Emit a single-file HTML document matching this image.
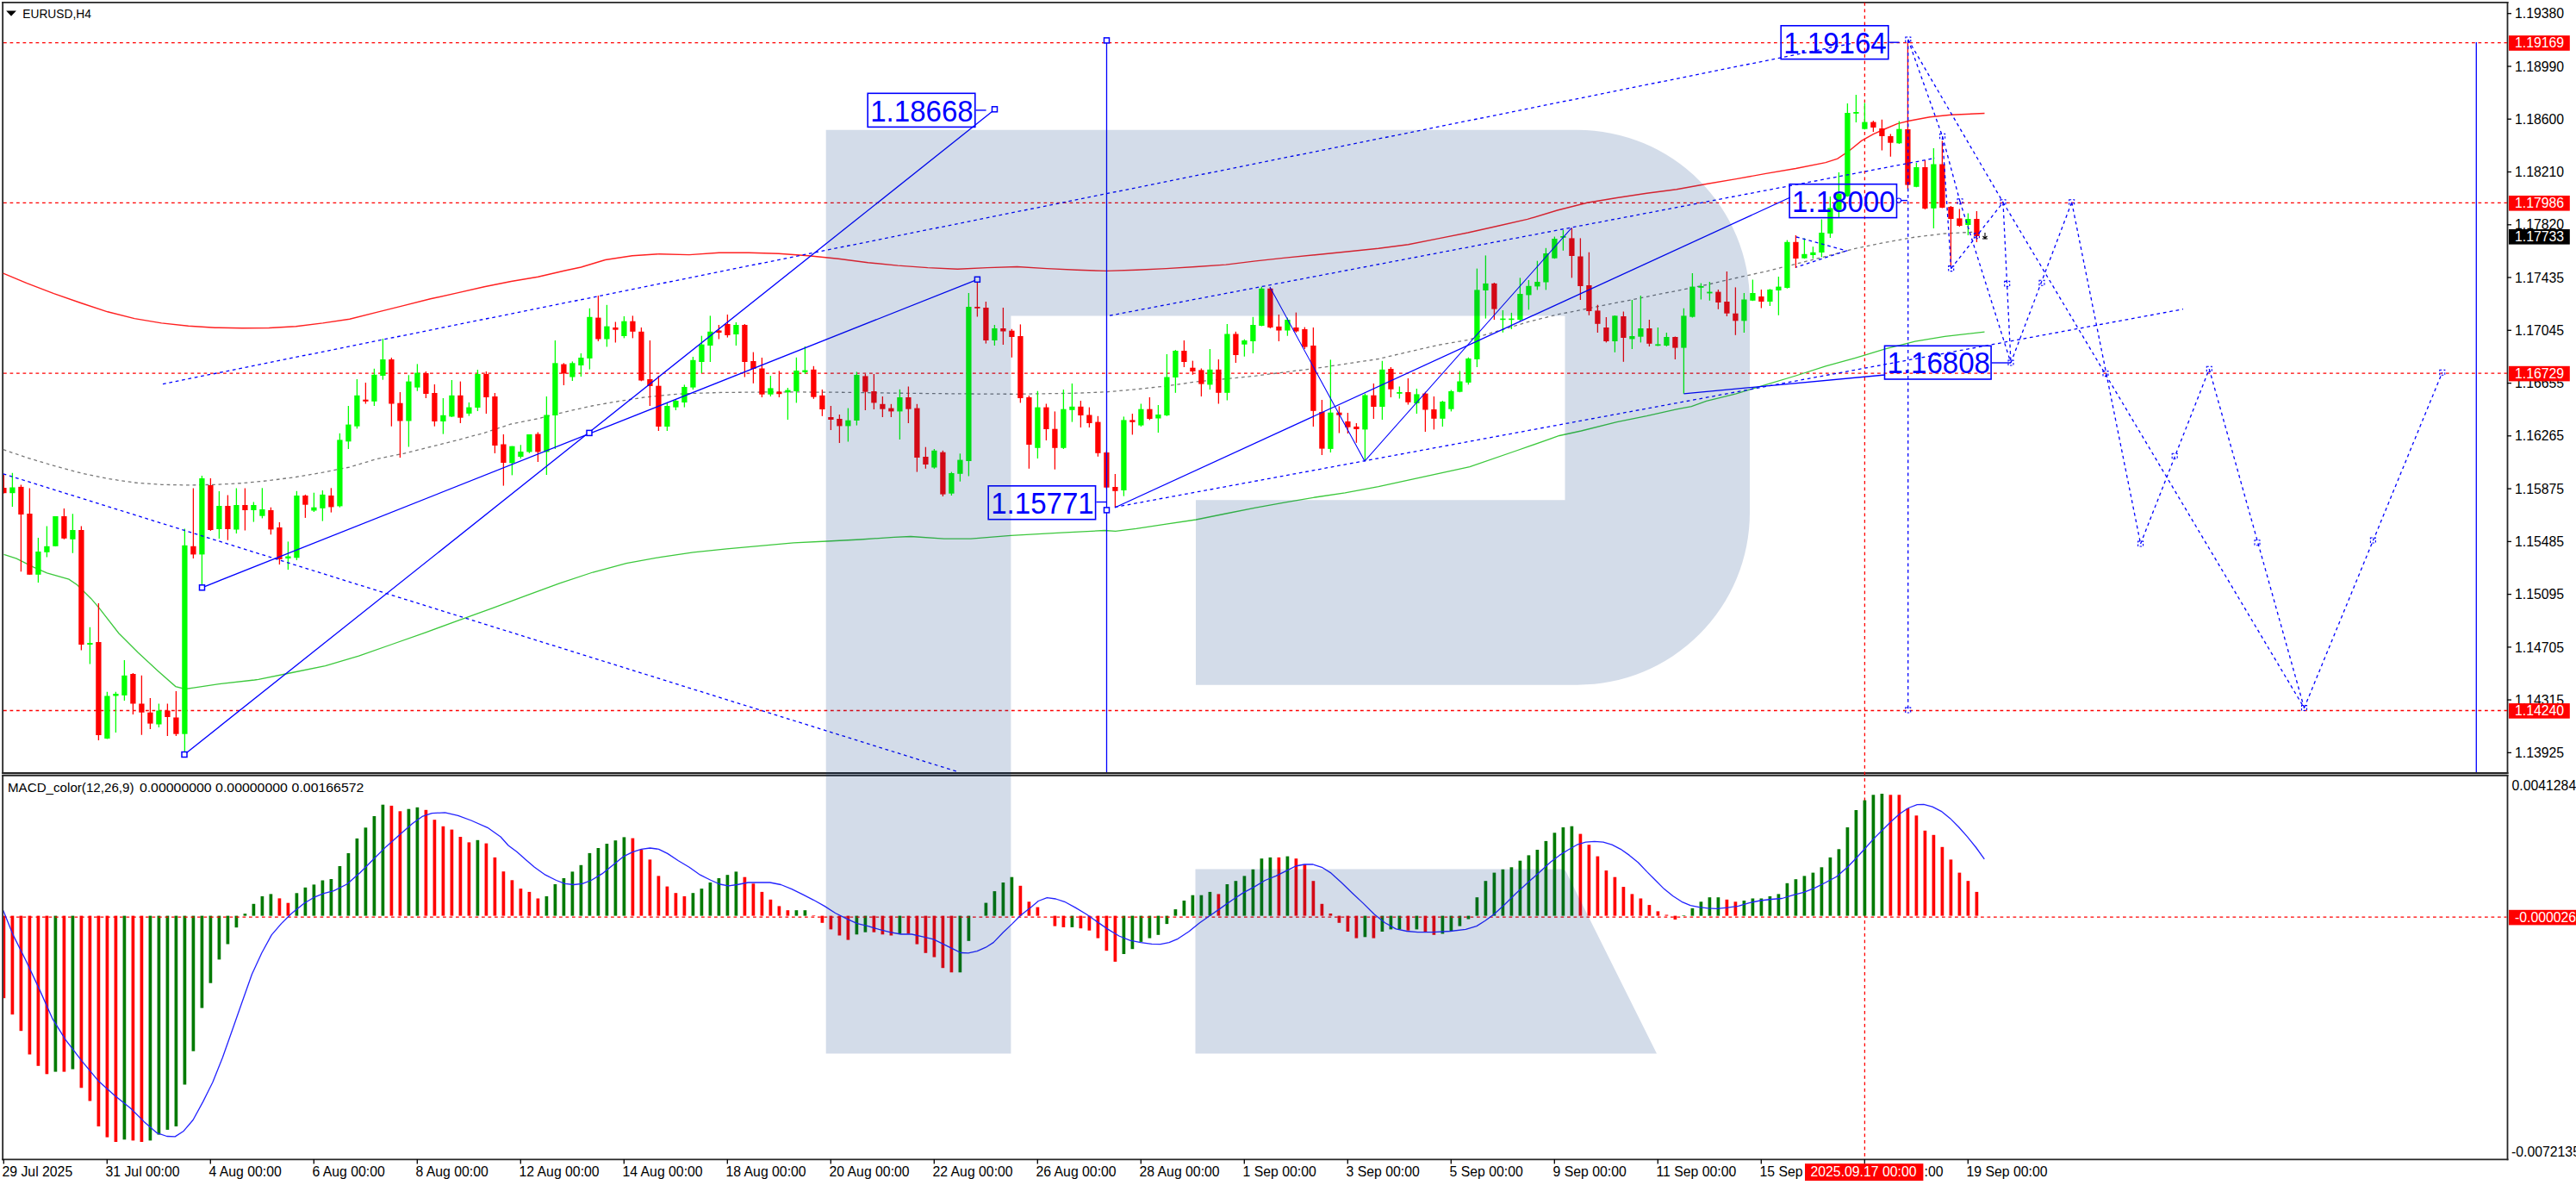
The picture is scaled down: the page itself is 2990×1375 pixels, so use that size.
<!DOCTYPE html>
<html><head><meta charset="utf-8"><title>EURUSD H4</title>
<style>html,body{margin:0;padding:0;background:#fff;width:2990px;height:1375px;overflow:hidden;font-family:"Liberation Sans",sans-serif}</style>
</head><body>
<svg width="2990" height="1375" viewBox="0 0 2990 1375" style="position:absolute;left:0;top:0">
<rect width="100%" height="100%" fill="#fff"/>
<defs><clipPath id="cm"><rect x="4.1" y="3.8" width="2905.4" height="892.3"/></clipPath><clipPath id="ci"><rect x="4.1" y="900.8" width="2905.4" height="443.6"/></clipPath><clipPath id="call"><rect x="4.2" y="3.5" width="2905.5" height="1341.3"/></clipPath></defs>
<g stroke="#262626" stroke-width="1.8" fill="none">
<line x1="3.15" y1="2.1" x2="3.15" y2="897.9"/>
<line x1="3.15" y1="899.1" x2="3.15" y2="1346.3"/>
<line x1="2.2" y1="2.95" x2="2911.5" y2="2.95"/>
<line x1="2910.5" y1="2.1" x2="2910.5" y2="897.9"/>
<line x1="2910.5" y1="899.1" x2="2910.5" y2="1346.3"/>
<line x1="2.2" y1="897" x2="2911.5" y2="897"/>
<line x1="2.2" y1="898.5" x2="2911.5" y2="898.5" stroke="#b4b4b4" stroke-width="1.2"/>
<line x1="2.2" y1="899.95" x2="2911.5" y2="899.95"/>
<line x1="2.2" y1="1345.3" x2="2911.5" y2="1345.3"/>
</g>
<g stroke="#ff0000" stroke-width="1.3" stroke-dasharray="3.75 3.75" fill="none">
<line x1="4" y1="49.6" x2="2910" y2="49.6"/>
<line x1="4" y1="235.4" x2="2910" y2="235.4"/>
<line x1="4" y1="433.2" x2="2910" y2="433.2"/>
<line x1="4" y1="824.5" x2="2910" y2="824.5"/>
<line x1="2164.4" y1="3" x2="2164.4" y2="1345"/>
</g>
<polyline points="4.5,643.4 19.2,648.2 38.5,657.8 54.5,664.9 80.0,672.2 89.7,678.7 105.8,694.7 115.4,705.9 137.8,734.7 160.3,757.2 182.7,778.0 203.8,796.6 214.7,799.5 224.4,798.2 256.4,793.4 295.4,789.0 300.0,788.3 338.8,780.5 377.6,772.7 416.5,761.1 455.3,747.5 494.1,733.9 532.9,719.6 571.7,705.6 610.6,691.2 649.4,676.9 688.2,664.0 727.0,653.6 765.8,646.6 804.7,640.8 843.5,636.9 882.3,633.4 921.1,629.9 959.9,628.0 998.8,626.0 1037.6,623.3 1057.0,622.5 1095.8,625.2 1126.9,625.2 1173.4,621.4 1231.7,618.2 1282.1,615.5 1294.8,616.3 1319.0,613.3 1353.6,608.1 1388.2,603.0 1422.8,596.0 1457.4,589.1 1492.0,582.9 1526.6,577.0 1561.2,571.8 1600.0,564.7 1706.0,541.7 1760.0,523.0 1810.0,505.5 1835.3,500.0 1876.8,489.6 1911.4,482.7 1946.0,474.8 1963.3,471.7 1980.6,465.4 2015.2,456.8 2049.8,446.4 2084.4,436.0 2119.0,424.9 2153.6,415.3 2188.2,404.9 2222.8,396.2 2257.4,390.3 2303.5,385.2" fill="none" stroke="#3cc83c" stroke-width="1.3"/>
<polyline points="3.7,521.7 31.2,531.0 62.5,540.4 93.7,548.8 124.9,555.4 156.1,560.0 187.4,562.3 218.6,562.9 249.8,562.3 281.0,560.7 312.3,557.6 343.5,553.5 374.7,548.2 405.9,542.0 437.2,532.6 468.4,526.3 499.6,518.5 530.8,510.7 562.1,502.3 593.3,492.0 624.5,485.8 655.7,478.0 687.0,471.0 718.2,465.5 749.4,460.8 780.6,457.7 800.0,456.6 834.6,455.5 903.8,454.8 973.0,455.2 1042.2,456.2 1111.4,456.9 1180.6,457.3 1249.8,456.2 1284.4,454.8 1319.0,451.7 1353.6,447.9 1388.2,443.0 1422.8,439.6 1457.4,436.2 1492.0,431.7 1526.6,427.5 1561.2,422.3 1600.0,416.5 1634.6,408.3 1669.2,400.4 1703.8,394.5 1738.4,384.1 1773.0,373.7 1807.6,365.0 1842.2,358.2 1876.8,351.2 1911.4,344.3 1946.0,337.4 1980.6,330.5 2015.2,322.5 2049.8,314.9 2084.4,306.3 2119.0,297.6 2153.6,288.3 2188.2,281.3 2222.8,275.1 2257.4,271.0 2292.0,269.2" fill="none" stroke="#777" stroke-width="1.3" stroke-dasharray="3.75 3.75"/>
<polyline points="3.7,317.1 31.2,328.7 62.5,340.6 93.7,351.5 124.9,361.8 156.1,369.6 187.4,374.9 218.6,378.3 249.8,380.2 281.0,380.8 312.3,380.5 343.5,378.7 374.7,374.9 405.9,370.2 437.2,362.4 468.4,354.6 499.6,346.8 530.8,339.9 562.1,332.7 593.3,326.5 624.5,321.2 655.7,314.0 674.5,310.0 702.6,301.5 733.8,296.8 765.0,294.7 800.0,295.6 834.6,293.3 869.2,293.3 903.8,294.3 938.4,296.7 973.0,300.2 1007.6,304.7 1042.2,308.1 1076.8,310.6 1111.4,312.3 1146.0,310.6 1180.6,309.5 1215.2,311.6 1249.8,313.3 1284.4,314.4 1319.0,313.3 1353.6,311.6 1388.2,309.5 1422.8,307.1 1457.4,302.9 1492.0,299.1 1526.6,295.7 1561.2,292.2 1600.0,288.2 1634.6,283.8 1669.2,276.9 1703.8,270.0 1738.4,262.3 1773.0,254.4 1807.6,244.0 1842.2,235.3 1876.8,229.5 1911.4,224.3 1946.0,219.8 1980.6,213.5 2015.2,207.6 2049.8,201.4 2084.4,195.5 2119.0,188.6 2132.9,184.1 2146.7,174.8 2160.6,163.4 2174.4,155.7 2188.2,149.5 2202.1,143.6 2215.9,140.2 2240.1,135.7 2264.4,133.3 2303.5,131.5" fill="none" stroke="#ff2020" stroke-width="1.4"/>
<g clip-path="url(#cm)">
<line x1="4.4" y1="550.7" x2="4.4" y2="572.6" stroke="#ff0000" stroke-width="1.3"/>
<rect x="1.25" y="566.0" width="6.3" height="6.2" fill="#ff0000"/>
<line x1="14.4" y1="548.8" x2="14.4" y2="588.0" stroke="#00ff00" stroke-width="1.3"/>
<rect x="11.25" y="565.5" width="6.3" height="6.7" fill="#00ff00"/>
<line x1="24.4" y1="562.6" x2="24.4" y2="663.3" stroke="#ff0000" stroke-width="1.3"/>
<rect x="21.25" y="564.9" width="6.3" height="32.1" fill="#ff0000"/>
<line x1="34.4" y1="566.5" x2="34.4" y2="666.8" stroke="#ff0000" stroke-width="1.3"/>
<rect x="31.25" y="596.0" width="6.3" height="70.8" fill="#ff0000"/>
<line x1="44.4" y1="624.0" x2="44.4" y2="676.0" stroke="#00ff00" stroke-width="1.3"/>
<rect x="41.25" y="640.0" width="6.3" height="26.8" fill="#00ff00"/>
<line x1="54.4" y1="610.4" x2="54.4" y2="646.6" stroke="#00ff00" stroke-width="1.3"/>
<rect x="51.25" y="633.8" width="6.3" height="7.0" fill="#00ff00"/>
<line x1="64.4" y1="599.0" x2="64.4" y2="634.0" stroke="#00ff00" stroke-width="1.3"/>
<rect x="61.25" y="599.0" width="6.3" height="34.8" fill="#00ff00"/>
<line x1="74.4" y1="589.9" x2="74.4" y2="625.8" stroke="#ff0000" stroke-width="1.3"/>
<rect x="71.25" y="599.0" width="6.3" height="25.8" fill="#ff0000"/>
<line x1="84.4" y1="596.3" x2="84.4" y2="641.8" stroke="#00ff00" stroke-width="1.3"/>
<rect x="81.25" y="615.0" width="6.3" height="10.8" fill="#00ff00"/>
<line x1="94.4" y1="610.4" x2="94.4" y2="754.6" stroke="#ff0000" stroke-width="1.3"/>
<rect x="91.25" y="615.0" width="6.3" height="133.0" fill="#ff0000"/>
<line x1="104.4" y1="727.7" x2="104.4" y2="770.6" stroke="#00ff00" stroke-width="1.3"/>
<rect x="101.25" y="746.0" width="6.3" height="2.0" fill="#00ff00"/>
<line x1="114.4" y1="700.0" x2="114.4" y2="859.0" stroke="#ff0000" stroke-width="1.3"/>
<rect x="111.25" y="745.0" width="6.3" height="108.0" fill="#ff0000"/>
<line x1="124.4" y1="802.7" x2="124.4" y2="857.5" stroke="#00ff00" stroke-width="1.3"/>
<rect x="121.25" y="807.5" width="6.3" height="49.5" fill="#00ff00"/>
<line x1="134.4" y1="802.7" x2="134.4" y2="850.0" stroke="#00ff00" stroke-width="1.3"/>
<rect x="131.25" y="805.0" width="6.3" height="2.5" fill="#00ff00"/>
<line x1="144.4" y1="766.0" x2="144.4" y2="813.0" stroke="#00ff00" stroke-width="1.3"/>
<rect x="141.25" y="783.8" width="6.3" height="23.1" fill="#00ff00"/>
<line x1="154.4" y1="781.0" x2="154.4" y2="829.0" stroke="#ff0000" stroke-width="1.3"/>
<rect x="151.25" y="782.0" width="6.3" height="34.5" fill="#ff0000"/>
<line x1="164.4" y1="783.8" x2="164.4" y2="852.7" stroke="#ff0000" stroke-width="1.3"/>
<rect x="161.25" y="816.5" width="6.3" height="10.2" fill="#ff0000"/>
<line x1="174.4" y1="810.0" x2="174.4" y2="846.0" stroke="#ff0000" stroke-width="1.3"/>
<rect x="171.25" y="826.7" width="6.3" height="12.9" fill="#ff0000"/>
<line x1="184.4" y1="816.5" x2="184.4" y2="844.0" stroke="#00ff00" stroke-width="1.3"/>
<rect x="181.25" y="824.5" width="6.3" height="16.0" fill="#00ff00"/>
<line x1="194.4" y1="816.5" x2="194.4" y2="854.0" stroke="#ff0000" stroke-width="1.3"/>
<rect x="191.25" y="824.5" width="6.3" height="7.5" fill="#ff0000"/>
<line x1="204.4" y1="802.0" x2="204.4" y2="854.0" stroke="#ff0000" stroke-width="1.3"/>
<rect x="201.25" y="832.5" width="6.3" height="19.2" fill="#ff0000"/>
<line x1="214.4" y1="613.6" x2="214.4" y2="872.6" stroke="#00ff00" stroke-width="1.3"/>
<rect x="211.25" y="632.8" width="6.3" height="218.9" fill="#00ff00"/>
<line x1="224.4" y1="566.5" x2="224.4" y2="648.0" stroke="#ff0000" stroke-width="1.3"/>
<rect x="221.25" y="633.8" width="6.3" height="9.6" fill="#ff0000"/>
<line x1="234.4" y1="552.0" x2="234.4" y2="680.0" stroke="#00ff00" stroke-width="1.3"/>
<rect x="231.25" y="555.0" width="6.3" height="88.4" fill="#00ff00"/>
<line x1="244.4" y1="555.0" x2="244.4" y2="616.0" stroke="#ff0000" stroke-width="1.3"/>
<rect x="241.25" y="563.0" width="6.3" height="52.0" fill="#ff0000"/>
<line x1="254.4" y1="570.0" x2="254.4" y2="625.0" stroke="#00ff00" stroke-width="1.3"/>
<rect x="251.25" y="587.0" width="6.3" height="27.0" fill="#00ff00"/>
<line x1="264.4" y1="574.5" x2="264.4" y2="626.7" stroke="#ff0000" stroke-width="1.3"/>
<rect x="261.25" y="587.0" width="6.3" height="27.0" fill="#ff0000"/>
<line x1="274.4" y1="566.5" x2="274.4" y2="619.0" stroke="#00ff00" stroke-width="1.3"/>
<rect x="271.25" y="586.0" width="6.3" height="28.5" fill="#00ff00"/>
<line x1="284.4" y1="566.5" x2="284.4" y2="615.5" stroke="#ff0000" stroke-width="1.3"/>
<rect x="281.25" y="586.0" width="6.3" height="6.0" fill="#ff0000"/>
<line x1="294.4" y1="582.5" x2="294.4" y2="605.6" stroke="#00ff00" stroke-width="1.3"/>
<rect x="291.25" y="586.0" width="6.3" height="6.0" fill="#00ff00"/>
<line x1="304.4" y1="566.3" x2="304.4" y2="601.4" stroke="#00ff00" stroke-width="1.3"/>
<rect x="301.25" y="591.0" width="6.3" height="7.7" fill="#00ff00"/>
<line x1="314.4" y1="588.7" x2="314.4" y2="620.3" stroke="#ff0000" stroke-width="1.3"/>
<rect x="311.25" y="592.0" width="6.3" height="22.4" fill="#ff0000"/>
<line x1="324.4" y1="606.0" x2="324.4" y2="655.0" stroke="#ff0000" stroke-width="1.3"/>
<rect x="321.25" y="612.0" width="6.3" height="37.0" fill="#ff0000"/>
<line x1="334.4" y1="628.4" x2="334.4" y2="661.0" stroke="#00ff00" stroke-width="1.3"/>
<rect x="331.25" y="645.5" width="6.3" height="2.5" fill="#00ff00"/>
<line x1="344.4" y1="569.8" x2="344.4" y2="650.0" stroke="#00ff00" stroke-width="1.3"/>
<rect x="341.25" y="575.0" width="6.3" height="72.3" fill="#00ff00"/>
<line x1="354.4" y1="573.9" x2="354.4" y2="600.9" stroke="#ff0000" stroke-width="1.3"/>
<rect x="351.25" y="575.0" width="6.3" height="10.7" fill="#ff0000"/>
<line x1="364.4" y1="571.7" x2="364.4" y2="594.0" stroke="#00ff00" stroke-width="1.3"/>
<rect x="361.25" y="588.7" width="6.3" height="3.8" fill="#00ff00"/>
<line x1="374.4" y1="569.0" x2="374.4" y2="604.6" stroke="#00ff00" stroke-width="1.3"/>
<rect x="371.25" y="573.9" width="6.3" height="15.9" fill="#00ff00"/>
<line x1="384.4" y1="566.3" x2="384.4" y2="594.6" stroke="#ff0000" stroke-width="1.3"/>
<rect x="381.25" y="575.0" width="6.3" height="13.4" fill="#ff0000"/>
<line x1="394.4" y1="502.8" x2="394.4" y2="588.7" stroke="#00ff00" stroke-width="1.3"/>
<rect x="391.25" y="510.4" width="6.3" height="77.0" fill="#00ff00"/>
<line x1="404.4" y1="471.0" x2="404.4" y2="521.0" stroke="#00ff00" stroke-width="1.3"/>
<rect x="401.25" y="492.6" width="6.3" height="19.7" fill="#00ff00"/>
<line x1="414.4" y1="440.0" x2="414.4" y2="497.4" stroke="#00ff00" stroke-width="1.3"/>
<rect x="411.25" y="458.8" width="6.3" height="35.9" fill="#00ff00"/>
<line x1="424.4" y1="444.0" x2="424.4" y2="468.5" stroke="#ff0000" stroke-width="1.3"/>
<rect x="421.25" y="463.7" width="6.3" height="2.1" fill="#ff0000"/>
<line x1="434.4" y1="427.8" x2="434.4" y2="471.0" stroke="#00ff00" stroke-width="1.3"/>
<rect x="431.25" y="434.8" width="6.3" height="31.0" fill="#00ff00"/>
<line x1="444.4" y1="393.0" x2="444.4" y2="440.7" stroke="#00ff00" stroke-width="1.3"/>
<rect x="441.25" y="417.0" width="6.3" height="19.0" fill="#00ff00"/>
<line x1="454.4" y1="415.0" x2="454.4" y2="494.7" stroke="#ff0000" stroke-width="1.3"/>
<rect x="451.25" y="417.0" width="6.3" height="51.5" fill="#ff0000"/>
<line x1="464.4" y1="455.0" x2="464.4" y2="531.0" stroke="#ff0000" stroke-width="1.3"/>
<rect x="461.25" y="467.7" width="6.3" height="20.8" fill="#ff0000"/>
<line x1="474.4" y1="435.3" x2="474.4" y2="518.5" stroke="#00ff00" stroke-width="1.3"/>
<rect x="471.25" y="442.6" width="6.3" height="45.9" fill="#00ff00"/>
<line x1="484.4" y1="422.4" x2="484.4" y2="453.7" stroke="#00ff00" stroke-width="1.3"/>
<rect x="481.25" y="432.6" width="6.3" height="17.0" fill="#00ff00"/>
<line x1="494.4" y1="431.0" x2="494.4" y2="462.0" stroke="#ff0000" stroke-width="1.3"/>
<rect x="491.25" y="433.0" width="6.3" height="24.0" fill="#ff0000"/>
<line x1="504.4" y1="446.0" x2="504.4" y2="494.7" stroke="#ff0000" stroke-width="1.3"/>
<rect x="501.25" y="456.0" width="6.3" height="33.0" fill="#ff0000"/>
<line x1="514.4" y1="462.0" x2="514.4" y2="503.6" stroke="#00ff00" stroke-width="1.3"/>
<rect x="511.25" y="481.8" width="6.3" height="7.2" fill="#00ff00"/>
<line x1="524.4" y1="441.0" x2="524.4" y2="484.0" stroke="#00ff00" stroke-width="1.3"/>
<rect x="521.25" y="458.8" width="6.3" height="24.6" fill="#00ff00"/>
<line x1="534.4" y1="442.6" x2="534.4" y2="491.0" stroke="#ff0000" stroke-width="1.3"/>
<rect x="531.25" y="458.8" width="6.3" height="25.9" fill="#ff0000"/>
<line x1="544.4" y1="467.0" x2="544.4" y2="482.6" stroke="#00ff00" stroke-width="1.3"/>
<rect x="541.25" y="472.6" width="6.3" height="7.3" fill="#00ff00"/>
<line x1="554.4" y1="429.0" x2="554.4" y2="477.0" stroke="#00ff00" stroke-width="1.3"/>
<rect x="551.25" y="434.0" width="6.3" height="39.0" fill="#00ff00"/>
<line x1="564.4" y1="431.0" x2="564.4" y2="480.0" stroke="#ff0000" stroke-width="1.3"/>
<rect x="561.25" y="434.0" width="6.3" height="27.0" fill="#ff0000"/>
<line x1="574.4" y1="456.0" x2="574.4" y2="526.0" stroke="#ff0000" stroke-width="1.3"/>
<rect x="571.25" y="460.0" width="6.3" height="57.0" fill="#ff0000"/>
<line x1="584.4" y1="504.0" x2="584.4" y2="563.6" stroke="#ff0000" stroke-width="1.3"/>
<rect x="581.25" y="515.5" width="6.3" height="21.5" fill="#ff0000"/>
<line x1="594.4" y1="517.7" x2="594.4" y2="551.4" stroke="#00ff00" stroke-width="1.3"/>
<rect x="591.25" y="517.7" width="6.3" height="19.7" fill="#00ff00"/>
<line x1="604.4" y1="516.3" x2="604.4" y2="532.0" stroke="#00ff00" stroke-width="1.3"/>
<rect x="601.25" y="524.0" width="6.3" height="6.0" fill="#00ff00"/>
<line x1="614.4" y1="504.0" x2="614.4" y2="525.8" stroke="#00ff00" stroke-width="1.3"/>
<rect x="611.25" y="504.0" width="6.3" height="20.4" fill="#00ff00"/>
<line x1="624.4" y1="501.5" x2="624.4" y2="536.0" stroke="#ff0000" stroke-width="1.3"/>
<rect x="621.25" y="503.6" width="6.3" height="20.8" fill="#ff0000"/>
<line x1="634.4" y1="460.0" x2="634.4" y2="551.0" stroke="#00ff00" stroke-width="1.3"/>
<rect x="631.25" y="481.5" width="6.3" height="42.9" fill="#00ff00"/>
<line x1="644.4" y1="395.0" x2="644.4" y2="521.0" stroke="#00ff00" stroke-width="1.3"/>
<rect x="641.25" y="421.3" width="6.3" height="60.7" fill="#00ff00"/>
<line x1="654.4" y1="421.3" x2="654.4" y2="447.0" stroke="#ff0000" stroke-width="1.3"/>
<rect x="651.25" y="422.6" width="6.3" height="10.8" fill="#ff0000"/>
<line x1="664.4" y1="419.4" x2="664.4" y2="442.0" stroke="#00ff00" stroke-width="1.3"/>
<rect x="661.25" y="421.3" width="6.3" height="16.2" fill="#00ff00"/>
<line x1="674.4" y1="410.0" x2="674.4" y2="437.0" stroke="#00ff00" stroke-width="1.3"/>
<rect x="671.25" y="415.0" width="6.3" height="9.0" fill="#00ff00"/>
<line x1="684.4" y1="357.8" x2="684.4" y2="428.6" stroke="#00ff00" stroke-width="1.3"/>
<rect x="681.25" y="367.8" width="6.3" height="48.1" fill="#00ff00"/>
<line x1="694.4" y1="343.0" x2="694.4" y2="396.0" stroke="#ff0000" stroke-width="1.3"/>
<rect x="691.25" y="368.6" width="6.3" height="24.9" fill="#ff0000"/>
<line x1="704.4" y1="353.8" x2="704.4" y2="402.4" stroke="#00ff00" stroke-width="1.3"/>
<rect x="701.25" y="378.6" width="6.3" height="14.9" fill="#00ff00"/>
<line x1="714.4" y1="373.5" x2="714.4" y2="397.5" stroke="#ff0000" stroke-width="1.3"/>
<rect x="711.25" y="380.0" width="6.3" height="2.7" fill="#ff0000"/>
<line x1="724.4" y1="367.0" x2="724.4" y2="392.4" stroke="#00ff00" stroke-width="1.3"/>
<rect x="721.25" y="372.7" width="6.3" height="17.3" fill="#00ff00"/>
<line x1="734.4" y1="366.4" x2="734.4" y2="392.4" stroke="#ff0000" stroke-width="1.3"/>
<rect x="731.25" y="372.7" width="6.3" height="12.1" fill="#ff0000"/>
<line x1="744.4" y1="380.0" x2="744.4" y2="442.3" stroke="#ff0000" stroke-width="1.3"/>
<rect x="741.25" y="384.8" width="6.3" height="56.7" fill="#ff0000"/>
<line x1="754.4" y1="395.0" x2="754.4" y2="471.0" stroke="#ff0000" stroke-width="1.3"/>
<rect x="751.25" y="440.0" width="6.3" height="8.0" fill="#ff0000"/>
<line x1="764.4" y1="436.0" x2="764.4" y2="500.0" stroke="#ff0000" stroke-width="1.3"/>
<rect x="761.25" y="447.7" width="6.3" height="47.3" fill="#ff0000"/>
<line x1="774.4" y1="468.0" x2="774.4" y2="500.0" stroke="#00ff00" stroke-width="1.3"/>
<rect x="771.25" y="471.0" width="6.3" height="24.0" fill="#00ff00"/>
<line x1="784.4" y1="463.0" x2="784.4" y2="476.0" stroke="#00ff00" stroke-width="1.3"/>
<rect x="781.25" y="465.0" width="6.3" height="7.6" fill="#00ff00"/>
<line x1="794.4" y1="446.4" x2="794.4" y2="472.6" stroke="#00ff00" stroke-width="1.3"/>
<rect x="791.25" y="449.0" width="6.3" height="18.0" fill="#00ff00"/>
<line x1="804.4" y1="414.0" x2="804.4" y2="452.0" stroke="#00ff00" stroke-width="1.3"/>
<rect x="801.25" y="417.8" width="6.3" height="31.8" fill="#00ff00"/>
<line x1="814.4" y1="389.7" x2="814.4" y2="433.0" stroke="#00ff00" stroke-width="1.3"/>
<rect x="811.25" y="399.7" width="6.3" height="20.3" fill="#00ff00"/>
<line x1="824.4" y1="366.4" x2="824.4" y2="420.0" stroke="#00ff00" stroke-width="1.3"/>
<rect x="821.25" y="384.8" width="6.3" height="16.2" fill="#00ff00"/>
<line x1="834.4" y1="377.0" x2="834.4" y2="393.5" stroke="#ff0000" stroke-width="1.3"/>
<rect x="831.25" y="383.5" width="6.3" height="2.5" fill="#ff0000"/>
<line x1="844.4" y1="365.0" x2="844.4" y2="391.6" stroke="#ff0000" stroke-width="1.3"/>
<rect x="841.25" y="376.0" width="6.3" height="13.0" fill="#ff0000"/>
<line x1="854.4" y1="374.0" x2="854.4" y2="401.0" stroke="#00ff00" stroke-width="1.3"/>
<rect x="851.25" y="377.0" width="6.3" height="11.0" fill="#00ff00"/>
<line x1="864.4" y1="376.0" x2="864.4" y2="437.5" stroke="#ff0000" stroke-width="1.3"/>
<rect x="861.25" y="377.0" width="6.3" height="43.0" fill="#ff0000"/>
<line x1="874.4" y1="408.6" x2="874.4" y2="444.8" stroke="#ff0000" stroke-width="1.3"/>
<rect x="871.25" y="419.0" width="6.3" height="9.0" fill="#ff0000"/>
<line x1="884.4" y1="415.0" x2="884.4" y2="461.0" stroke="#ff0000" stroke-width="1.3"/>
<rect x="881.25" y="427.5" width="6.3" height="30.2" fill="#ff0000"/>
<line x1="894.4" y1="436.0" x2="894.4" y2="460.0" stroke="#00ff00" stroke-width="1.3"/>
<rect x="891.25" y="450.4" width="6.3" height="7.3" fill="#00ff00"/>
<line x1="904.4" y1="430.4" x2="904.4" y2="461.0" stroke="#ff0000" stroke-width="1.3"/>
<rect x="901.25" y="454.5" width="6.3" height="2.7" fill="#ff0000"/>
<line x1="914.4" y1="450.0" x2="914.4" y2="487.0" stroke="#00ff00" stroke-width="1.3"/>
<rect x="911.25" y="452.6" width="6.3" height="2.7" fill="#00ff00"/>
<line x1="924.4" y1="414.8" x2="924.4" y2="467.4" stroke="#00ff00" stroke-width="1.3"/>
<rect x="921.25" y="430.0" width="6.3" height="24.0" fill="#00ff00"/>
<line x1="934.4" y1="402.0" x2="934.4" y2="434.0" stroke="#00ff00" stroke-width="1.3"/>
<rect x="931.25" y="429.6" width="6.3" height="2.2" fill="#00ff00"/>
<line x1="944.4" y1="424.8" x2="944.4" y2="462.8" stroke="#ff0000" stroke-width="1.3"/>
<rect x="941.25" y="428.8" width="6.3" height="31.9" fill="#ff0000"/>
<line x1="954.4" y1="452.0" x2="954.4" y2="482.8" stroke="#ff0000" stroke-width="1.3"/>
<rect x="951.25" y="458.8" width="6.3" height="16.2" fill="#ff0000"/>
<line x1="964.4" y1="471.0" x2="964.4" y2="499.0" stroke="#ff0000" stroke-width="1.3"/>
<rect x="961.25" y="484.0" width="6.3" height="3.0" fill="#ff0000"/>
<line x1="974.4" y1="481.0" x2="974.4" y2="514.0" stroke="#ff0000" stroke-width="1.3"/>
<rect x="971.25" y="486.0" width="6.3" height="8.4" fill="#ff0000"/>
<line x1="984.4" y1="473.6" x2="984.4" y2="512.5" stroke="#00ff00" stroke-width="1.3"/>
<rect x="981.25" y="487.7" width="6.3" height="6.7" fill="#00ff00"/>
<line x1="994.4" y1="431.5" x2="994.4" y2="493.6" stroke="#00ff00" stroke-width="1.3"/>
<rect x="991.25" y="435.0" width="6.3" height="53.0" fill="#00ff00"/>
<line x1="1004.4" y1="434.0" x2="1004.4" y2="476.0" stroke="#ff0000" stroke-width="1.3"/>
<rect x="1001.25" y="436.4" width="6.3" height="18.3" fill="#ff0000"/>
<line x1="1014.4" y1="434.0" x2="1014.4" y2="475.0" stroke="#ff0000" stroke-width="1.3"/>
<rect x="1011.25" y="454.0" width="6.3" height="13.4" fill="#ff0000"/>
<line x1="1024.4" y1="460.0" x2="1024.4" y2="484.0" stroke="#ff0000" stroke-width="1.3"/>
<rect x="1021.25" y="468.8" width="6.3" height="5.9" fill="#ff0000"/>
<line x1="1034.4" y1="468.8" x2="1034.4" y2="484.0" stroke="#ff0000" stroke-width="1.3"/>
<rect x="1031.25" y="473.6" width="6.3" height="3.8" fill="#ff0000"/>
<line x1="1044.4" y1="451.8" x2="1044.4" y2="510.0" stroke="#00ff00" stroke-width="1.3"/>
<rect x="1041.25" y="461.0" width="6.3" height="16.4" fill="#00ff00"/>
<line x1="1054.4" y1="448.5" x2="1054.4" y2="491.0" stroke="#ff0000" stroke-width="1.3"/>
<rect x="1051.25" y="461.0" width="6.3" height="13.7" fill="#ff0000"/>
<line x1="1064.4" y1="468.8" x2="1064.4" y2="547.6" stroke="#ff0000" stroke-width="1.3"/>
<rect x="1061.25" y="473.6" width="6.3" height="57.4" fill="#ff0000"/>
<line x1="1074.4" y1="518.7" x2="1074.4" y2="543.8" stroke="#ff0000" stroke-width="1.3"/>
<rect x="1071.25" y="530.0" width="6.3" height="9.0" fill="#ff0000"/>
<line x1="1084.4" y1="521.0" x2="1084.4" y2="543.8" stroke="#00ff00" stroke-width="1.3"/>
<rect x="1081.25" y="522.8" width="6.3" height="19.7" fill="#00ff00"/>
<line x1="1094.4" y1="522.8" x2="1094.4" y2="576.0" stroke="#ff0000" stroke-width="1.3"/>
<rect x="1091.25" y="524.7" width="6.3" height="48.9" fill="#ff0000"/>
<line x1="1104.4" y1="547.6" x2="1104.4" y2="575.0" stroke="#00ff00" stroke-width="1.3"/>
<rect x="1101.25" y="549.0" width="6.3" height="23.7" fill="#00ff00"/>
<line x1="1114.4" y1="526.3" x2="1114.4" y2="558.7" stroke="#00ff00" stroke-width="1.3"/>
<rect x="1111.25" y="533.6" width="6.3" height="16.2" fill="#00ff00"/>
<line x1="1124.4" y1="340.0" x2="1124.4" y2="552.5" stroke="#00ff00" stroke-width="1.3"/>
<rect x="1121.25" y="356.0" width="6.3" height="179.0" fill="#00ff00"/>
<line x1="1134.4" y1="327.0" x2="1134.4" y2="367.5" stroke="#ff0000" stroke-width="1.3"/>
<rect x="1131.25" y="356.0" width="6.3" height="1.8" fill="#ff0000"/>
<line x1="1144.4" y1="350.0" x2="1144.4" y2="398.6" stroke="#ff0000" stroke-width="1.3"/>
<rect x="1141.25" y="357.0" width="6.3" height="38.0" fill="#ff0000"/>
<line x1="1154.4" y1="377.0" x2="1154.4" y2="401.0" stroke="#00ff00" stroke-width="1.3"/>
<rect x="1151.25" y="381.0" width="6.3" height="14.0" fill="#00ff00"/>
<line x1="1164.4" y1="357.0" x2="1164.4" y2="400.0" stroke="#ff0000" stroke-width="1.3"/>
<rect x="1161.25" y="381.0" width="6.3" height="3.5" fill="#ff0000"/>
<line x1="1174.4" y1="381.8" x2="1174.4" y2="414.8" stroke="#ff0000" stroke-width="1.3"/>
<rect x="1171.25" y="383.7" width="6.3" height="7.3" fill="#ff0000"/>
<line x1="1184.4" y1="376.4" x2="1184.4" y2="467.4" stroke="#ff0000" stroke-width="1.3"/>
<rect x="1181.25" y="390.0" width="6.3" height="72.0" fill="#ff0000"/>
<line x1="1194.4" y1="459.0" x2="1194.4" y2="543.8" stroke="#ff0000" stroke-width="1.3"/>
<rect x="1191.25" y="461.0" width="6.3" height="55.0" fill="#ff0000"/>
<line x1="1204.4" y1="453.7" x2="1204.4" y2="532.0" stroke="#00ff00" stroke-width="1.3"/>
<rect x="1201.25" y="472.6" width="6.3" height="47.2" fill="#00ff00"/>
<line x1="1214.4" y1="468.5" x2="1214.4" y2="511.0" stroke="#ff0000" stroke-width="1.3"/>
<rect x="1211.25" y="472.6" width="6.3" height="25.4" fill="#ff0000"/>
<line x1="1224.4" y1="477.4" x2="1224.4" y2="544.7" stroke="#ff0000" stroke-width="1.3"/>
<rect x="1221.25" y="497.7" width="6.3" height="22.1" fill="#ff0000"/>
<line x1="1234.4" y1="452.0" x2="1234.4" y2="521.0" stroke="#00ff00" stroke-width="1.3"/>
<rect x="1231.25" y="474.7" width="6.3" height="45.1" fill="#00ff00"/>
<line x1="1244.4" y1="445.0" x2="1244.4" y2="489.6" stroke="#00ff00" stroke-width="1.3"/>
<rect x="1241.25" y="471.8" width="6.3" height="4.0" fill="#00ff00"/>
<line x1="1254.4" y1="465.0" x2="1254.4" y2="496.0" stroke="#ff0000" stroke-width="1.3"/>
<rect x="1251.25" y="471.8" width="6.3" height="10.2" fill="#ff0000"/>
<line x1="1264.4" y1="472.6" x2="1264.4" y2="496.0" stroke="#ff0000" stroke-width="1.3"/>
<rect x="1261.25" y="481.5" width="6.3" height="9.5" fill="#ff0000"/>
<line x1="1274.4" y1="482.8" x2="1274.4" y2="529.8" stroke="#ff0000" stroke-width="1.3"/>
<rect x="1271.25" y="489.6" width="6.3" height="36.2" fill="#ff0000"/>
<line x1="1284.4" y1="523.0" x2="1284.4" y2="567.0" stroke="#ff0000" stroke-width="1.3"/>
<rect x="1281.25" y="525.0" width="6.3" height="40.7" fill="#ff0000"/>
<line x1="1294.4" y1="550.0" x2="1294.4" y2="589.0" stroke="#ff0000" stroke-width="1.3"/>
<rect x="1291.25" y="565.0" width="6.3" height="4.8" fill="#ff0000"/>
<line x1="1304.4" y1="483.4" x2="1304.4" y2="575.7" stroke="#00ff00" stroke-width="1.3"/>
<rect x="1301.25" y="487.4" width="6.3" height="81.6" fill="#00ff00"/>
<line x1="1314.4" y1="480.0" x2="1314.4" y2="504.4" stroke="#ff0000" stroke-width="1.3"/>
<rect x="1311.25" y="487.4" width="6.3" height="2.4" fill="#ff0000"/>
<line x1="1324.4" y1="468.5" x2="1324.4" y2="495.0" stroke="#00ff00" stroke-width="1.3"/>
<rect x="1321.25" y="474.7" width="6.3" height="18.9" fill="#00ff00"/>
<line x1="1334.4" y1="461.0" x2="1334.4" y2="487.4" stroke="#ff0000" stroke-width="1.3"/>
<rect x="1331.25" y="474.7" width="6.3" height="11.3" fill="#ff0000"/>
<line x1="1344.4" y1="470.0" x2="1344.4" y2="502.0" stroke="#00ff00" stroke-width="1.3"/>
<rect x="1341.25" y="481.0" width="6.3" height="4.5" fill="#00ff00"/>
<line x1="1354.4" y1="411.0" x2="1354.4" y2="482.8" stroke="#00ff00" stroke-width="1.3"/>
<rect x="1351.25" y="437.5" width="6.3" height="44.5" fill="#00ff00"/>
<line x1="1364.4" y1="406.0" x2="1364.4" y2="455.8" stroke="#00ff00" stroke-width="1.3"/>
<rect x="1361.25" y="407.0" width="6.3" height="31.0" fill="#00ff00"/>
<line x1="1374.4" y1="395.0" x2="1374.4" y2="426.0" stroke="#ff0000" stroke-width="1.3"/>
<rect x="1371.25" y="407.0" width="6.3" height="13.0" fill="#ff0000"/>
<line x1="1384.4" y1="418.6" x2="1384.4" y2="434.8" stroke="#ff0000" stroke-width="1.3"/>
<rect x="1381.25" y="426.7" width="6.3" height="4.3" fill="#ff0000"/>
<line x1="1394.4" y1="427.5" x2="1394.4" y2="460.0" stroke="#ff0000" stroke-width="1.3"/>
<rect x="1391.25" y="429.4" width="6.3" height="16.2" fill="#ff0000"/>
<line x1="1404.4" y1="405.0" x2="1404.4" y2="452.0" stroke="#00ff00" stroke-width="1.3"/>
<rect x="1401.25" y="428.8" width="6.3" height="17.6" fill="#00ff00"/>
<line x1="1414.4" y1="417.0" x2="1414.4" y2="468.5" stroke="#ff0000" stroke-width="1.3"/>
<rect x="1411.25" y="428.8" width="6.3" height="27.0" fill="#ff0000"/>
<line x1="1424.4" y1="376.0" x2="1424.4" y2="464.5" stroke="#00ff00" stroke-width="1.3"/>
<rect x="1421.25" y="387.5" width="6.3" height="68.3" fill="#00ff00"/>
<line x1="1434.4" y1="384.8" x2="1434.4" y2="421.0" stroke="#ff0000" stroke-width="1.3"/>
<rect x="1431.25" y="387.5" width="6.3" height="24.5" fill="#ff0000"/>
<line x1="1444.4" y1="393.7" x2="1444.4" y2="413.7" stroke="#00ff00" stroke-width="1.3"/>
<rect x="1441.25" y="395.0" width="6.3" height="4.7" fill="#00ff00"/>
<line x1="1454.4" y1="367.8" x2="1454.4" y2="410.0" stroke="#00ff00" stroke-width="1.3"/>
<rect x="1451.25" y="377.0" width="6.3" height="19.0" fill="#00ff00"/>
<line x1="1464.4" y1="332.7" x2="1464.4" y2="378.5" stroke="#00ff00" stroke-width="1.3"/>
<rect x="1461.25" y="334.8" width="6.3" height="43.2" fill="#00ff00"/>
<line x1="1474.4" y1="333.5" x2="1474.4" y2="381.0" stroke="#ff0000" stroke-width="1.3"/>
<rect x="1471.25" y="334.8" width="6.3" height="45.2" fill="#ff0000"/>
<line x1="1484.4" y1="365.0" x2="1484.4" y2="396.0" stroke="#ff0000" stroke-width="1.3"/>
<rect x="1481.25" y="378.9" width="6.3" height="4.6" fill="#ff0000"/>
<line x1="1494.4" y1="368.6" x2="1494.4" y2="389.7" stroke="#00ff00" stroke-width="1.3"/>
<rect x="1491.25" y="371.0" width="6.3" height="12.5" fill="#00ff00"/>
<line x1="1504.4" y1="362.6" x2="1504.4" y2="385.8" stroke="#ff0000" stroke-width="1.3"/>
<rect x="1501.25" y="380.0" width="6.3" height="4.5" fill="#ff0000"/>
<line x1="1514.4" y1="379.6" x2="1514.4" y2="405.0" stroke="#ff0000" stroke-width="1.3"/>
<rect x="1511.25" y="382.0" width="6.3" height="20.6" fill="#ff0000"/>
<line x1="1524.4" y1="380.0" x2="1524.4" y2="495.0" stroke="#ff0000" stroke-width="1.3"/>
<rect x="1521.25" y="401.0" width="6.3" height="75.8" fill="#ff0000"/>
<line x1="1534.4" y1="464.0" x2="1534.4" y2="528.0" stroke="#ff0000" stroke-width="1.3"/>
<rect x="1531.25" y="478.0" width="6.3" height="42.6" fill="#ff0000"/>
<line x1="1544.4" y1="417.4" x2="1544.4" y2="525.0" stroke="#00ff00" stroke-width="1.3"/>
<rect x="1541.25" y="478.7" width="6.3" height="42.2" fill="#00ff00"/>
<line x1="1554.4" y1="471.4" x2="1554.4" y2="502.5" stroke="#ff0000" stroke-width="1.3"/>
<rect x="1551.25" y="478.7" width="6.3" height="3.0" fill="#ff0000"/>
<line x1="1564.4" y1="479.0" x2="1564.4" y2="503.0" stroke="#ff0000" stroke-width="1.3"/>
<rect x="1561.25" y="489.0" width="6.3" height="6.7" fill="#ff0000"/>
<line x1="1574.4" y1="491.0" x2="1574.4" y2="513.8" stroke="#ff0000" stroke-width="1.3"/>
<rect x="1571.25" y="495.0" width="6.3" height="3.0" fill="#ff0000"/>
<line x1="1584.4" y1="456.6" x2="1584.4" y2="535.0" stroke="#00ff00" stroke-width="1.3"/>
<rect x="1581.25" y="458.5" width="6.3" height="39.9" fill="#00ff00"/>
<line x1="1594.4" y1="445.0" x2="1594.4" y2="486.0" stroke="#ff0000" stroke-width="1.3"/>
<rect x="1591.25" y="458.7" width="6.3" height="13.3" fill="#ff0000"/>
<line x1="1604.4" y1="418.8" x2="1604.4" y2="487.0" stroke="#00ff00" stroke-width="1.3"/>
<rect x="1601.25" y="428.8" width="6.3" height="43.2" fill="#00ff00"/>
<line x1="1614.4" y1="426.0" x2="1614.4" y2="461.0" stroke="#ff0000" stroke-width="1.3"/>
<rect x="1611.25" y="428.0" width="6.3" height="23.7" fill="#ff0000"/>
<line x1="1624.4" y1="448.5" x2="1624.4" y2="462.5" stroke="#00ff00" stroke-width="1.3"/>
<rect x="1621.25" y="455.0" width="6.3" height="1.8" fill="#00ff00"/>
<line x1="1634.4" y1="439.0" x2="1634.4" y2="469.5" stroke="#ff0000" stroke-width="1.3"/>
<rect x="1631.25" y="455.0" width="6.3" height="11.8" fill="#ff0000"/>
<line x1="1644.4" y1="451.0" x2="1644.4" y2="480.0" stroke="#00ff00" stroke-width="1.3"/>
<rect x="1641.25" y="457.4" width="6.3" height="10.6" fill="#00ff00"/>
<line x1="1654.4" y1="454.7" x2="1654.4" y2="501.0" stroke="#ff0000" stroke-width="1.3"/>
<rect x="1651.25" y="456.6" width="6.3" height="18.9" fill="#ff0000"/>
<line x1="1664.4" y1="460.0" x2="1664.4" y2="498.4" stroke="#ff0000" stroke-width="1.3"/>
<rect x="1661.25" y="475.0" width="6.3" height="10.8" fill="#ff0000"/>
<line x1="1674.4" y1="465.0" x2="1674.4" y2="495.0" stroke="#00ff00" stroke-width="1.3"/>
<rect x="1671.25" y="466.0" width="6.3" height="19.8" fill="#00ff00"/>
<line x1="1684.4" y1="452.5" x2="1684.4" y2="477.4" stroke="#00ff00" stroke-width="1.3"/>
<rect x="1681.25" y="453.9" width="6.3" height="20.8" fill="#00ff00"/>
<line x1="1694.4" y1="430.4" x2="1694.4" y2="455.2" stroke="#00ff00" stroke-width="1.3"/>
<rect x="1691.25" y="442.5" width="6.3" height="12.2" fill="#00ff00"/>
<line x1="1704.4" y1="414.7" x2="1704.4" y2="446.3" stroke="#00ff00" stroke-width="1.3"/>
<rect x="1701.25" y="416.0" width="6.3" height="27.9" fill="#00ff00"/>
<line x1="1714.4" y1="311.6" x2="1714.4" y2="426.0" stroke="#00ff00" stroke-width="1.3"/>
<rect x="1711.25" y="336.4" width="6.3" height="80.5" fill="#00ff00"/>
<line x1="1724.4" y1="296.4" x2="1724.4" y2="369.6" stroke="#00ff00" stroke-width="1.3"/>
<rect x="1721.25" y="328.9" width="6.3" height="8.1" fill="#00ff00"/>
<line x1="1734.4" y1="328.0" x2="1734.4" y2="371.0" stroke="#ff0000" stroke-width="1.3"/>
<rect x="1731.25" y="328.9" width="6.3" height="29.7" fill="#ff0000"/>
<line x1="1744.4" y1="360.0" x2="1744.4" y2="385.8" stroke="#00ff00" stroke-width="1.3"/>
<rect x="1741.25" y="369.6" width="6.3" height="1.6" fill="#00ff00"/>
<line x1="1754.4" y1="362.9" x2="1754.4" y2="382.0" stroke="#00ff00" stroke-width="1.3"/>
<rect x="1751.25" y="369.6" width="6.3" height="1.6" fill="#00ff00"/>
<line x1="1764.4" y1="322.4" x2="1764.4" y2="372.9" stroke="#00ff00" stroke-width="1.3"/>
<rect x="1761.25" y="341.0" width="6.3" height="30.0" fill="#00ff00"/>
<line x1="1774.4" y1="325.0" x2="1774.4" y2="359.4" stroke="#00ff00" stroke-width="1.3"/>
<rect x="1771.25" y="331.8" width="6.3" height="10.6" fill="#00ff00"/>
<line x1="1784.4" y1="302.7" x2="1784.4" y2="336.4" stroke="#00ff00" stroke-width="1.3"/>
<rect x="1781.25" y="327.0" width="6.3" height="5.4" fill="#00ff00"/>
<line x1="1794.4" y1="287.8" x2="1794.4" y2="336.4" stroke="#00ff00" stroke-width="1.3"/>
<rect x="1791.25" y="294.0" width="6.3" height="33.5" fill="#00ff00"/>
<line x1="1804.4" y1="274.6" x2="1804.4" y2="300.2" stroke="#00ff00" stroke-width="1.3"/>
<rect x="1801.25" y="277.0" width="6.3" height="22.7" fill="#00ff00"/>
<line x1="1814.4" y1="267.0" x2="1814.4" y2="290.8" stroke="#00ff00" stroke-width="1.3"/>
<rect x="1811.25" y="274.0" width="6.3" height="1.8" fill="#00ff00"/>
<line x1="1824.4" y1="264.6" x2="1824.4" y2="322.4" stroke="#ff0000" stroke-width="1.3"/>
<rect x="1821.25" y="276.4" width="6.3" height="20.6" fill="#ff0000"/>
<line x1="1834.4" y1="276.4" x2="1834.4" y2="348.0" stroke="#ff0000" stroke-width="1.3"/>
<rect x="1831.25" y="297.5" width="6.3" height="34.5" fill="#ff0000"/>
<line x1="1844.4" y1="292.7" x2="1844.4" y2="365.8" stroke="#ff0000" stroke-width="1.3"/>
<rect x="1841.25" y="331.0" width="6.3" height="30.0" fill="#ff0000"/>
<line x1="1854.4" y1="353.7" x2="1854.4" y2="386.0" stroke="#ff0000" stroke-width="1.3"/>
<rect x="1851.25" y="360.4" width="6.3" height="15.4" fill="#ff0000"/>
<line x1="1864.4" y1="368.0" x2="1864.4" y2="397.4" stroke="#ff0000" stroke-width="1.3"/>
<rect x="1861.25" y="380.0" width="6.3" height="16.0" fill="#ff0000"/>
<line x1="1874.4" y1="366.0" x2="1874.4" y2="408.8" stroke="#00ff00" stroke-width="1.3"/>
<rect x="1871.25" y="366.4" width="6.3" height="29.6" fill="#00ff00"/>
<line x1="1884.4" y1="361.5" x2="1884.4" y2="419.8" stroke="#ff0000" stroke-width="1.3"/>
<rect x="1881.25" y="367.0" width="6.3" height="25.0" fill="#ff0000"/>
<line x1="1894.4" y1="348.0" x2="1894.4" y2="405.0" stroke="#00ff00" stroke-width="1.3"/>
<rect x="1891.25" y="390.0" width="6.3" height="3.4" fill="#00ff00"/>
<line x1="1904.4" y1="343.0" x2="1904.4" y2="397.4" stroke="#00ff00" stroke-width="1.3"/>
<rect x="1901.25" y="381.0" width="6.3" height="9.7" fill="#00ff00"/>
<line x1="1914.4" y1="371.0" x2="1914.4" y2="402.0" stroke="#ff0000" stroke-width="1.3"/>
<rect x="1911.25" y="381.0" width="6.3" height="17.8" fill="#ff0000"/>
<line x1="1924.4" y1="380.0" x2="1924.4" y2="401.5" stroke="#00ff00" stroke-width="1.3"/>
<rect x="1921.25" y="399.4" width="6.3" height="1.8" fill="#00ff00"/>
<line x1="1934.4" y1="386.0" x2="1934.4" y2="402.0" stroke="#00ff00" stroke-width="1.3"/>
<rect x="1931.25" y="391.0" width="6.3" height="10.0" fill="#00ff00"/>
<line x1="1944.4" y1="390.5" x2="1944.4" y2="417.0" stroke="#ff0000" stroke-width="1.3"/>
<rect x="1941.25" y="391.0" width="6.3" height="12.6" fill="#ff0000"/>
<line x1="1954.4" y1="357.7" x2="1954.4" y2="456.8" stroke="#00ff00" stroke-width="1.3"/>
<rect x="1951.25" y="366.4" width="6.3" height="37.2" fill="#00ff00"/>
<line x1="1964.4" y1="317.0" x2="1964.4" y2="368.5" stroke="#00ff00" stroke-width="1.3"/>
<rect x="1961.25" y="332.6" width="6.3" height="35.1" fill="#00ff00"/>
<line x1="1974.4" y1="328.6" x2="1974.4" y2="347.5" stroke="#00ff00" stroke-width="1.3"/>
<rect x="1971.25" y="332.0" width="6.3" height="1.8" fill="#00ff00"/>
<line x1="1984.4" y1="327.0" x2="1984.4" y2="348.8" stroke="#00ff00" stroke-width="1.3"/>
<rect x="1981.25" y="338.6" width="6.3" height="1.8" fill="#00ff00"/>
<line x1="1994.4" y1="336.0" x2="1994.4" y2="358.8" stroke="#ff0000" stroke-width="1.3"/>
<rect x="1991.25" y="338.6" width="6.3" height="12.4" fill="#ff0000"/>
<line x1="2004.4" y1="315.0" x2="2004.4" y2="367.0" stroke="#ff0000" stroke-width="1.3"/>
<rect x="2001.25" y="350.0" width="6.3" height="13.7" fill="#ff0000"/>
<line x1="2014.4" y1="333.4" x2="2014.4" y2="388.8" stroke="#ff0000" stroke-width="1.3"/>
<rect x="2011.25" y="363.7" width="6.3" height="8.6" fill="#ff0000"/>
<line x1="2024.4" y1="340.0" x2="2024.4" y2="386.0" stroke="#00ff00" stroke-width="1.3"/>
<rect x="2021.25" y="347.5" width="6.3" height="24.8" fill="#00ff00"/>
<line x1="2034.4" y1="324.5" x2="2034.4" y2="349.2" stroke="#00ff00" stroke-width="1.3"/>
<rect x="2031.25" y="340.0" width="6.3" height="8.8" fill="#00ff00"/>
<line x1="2044.4" y1="336.0" x2="2044.4" y2="357.5" stroke="#ff0000" stroke-width="1.3"/>
<rect x="2041.25" y="344.0" width="6.3" height="6.0" fill="#ff0000"/>
<line x1="2054.4" y1="335.3" x2="2054.4" y2="355.0" stroke="#00ff00" stroke-width="1.3"/>
<rect x="2051.25" y="336.0" width="6.3" height="14.0" fill="#00ff00"/>
<line x1="2064.4" y1="321.0" x2="2064.4" y2="365.8" stroke="#00ff00" stroke-width="1.3"/>
<rect x="2061.25" y="332.6" width="6.3" height="4.4" fill="#00ff00"/>
<line x1="2074.4" y1="278.6" x2="2074.4" y2="334.8" stroke="#00ff00" stroke-width="1.3"/>
<rect x="2071.25" y="280.8" width="6.3" height="53.2" fill="#00ff00"/>
<line x1="2084.4" y1="273.0" x2="2084.4" y2="311.0" stroke="#ff0000" stroke-width="1.3"/>
<rect x="2081.25" y="280.8" width="6.3" height="19.2" fill="#ff0000"/>
<line x1="2094.4" y1="276.4" x2="2094.4" y2="300.2" stroke="#00ff00" stroke-width="1.3"/>
<rect x="2091.25" y="294.8" width="6.3" height="4.9" fill="#00ff00"/>
<line x1="2104.4" y1="286.2" x2="2104.4" y2="300.0" stroke="#00ff00" stroke-width="1.3"/>
<rect x="2101.25" y="292.8" width="6.3" height="3.2" fill="#00ff00"/>
<line x1="2114.4" y1="254.5" x2="2114.4" y2="298.4" stroke="#00ff00" stroke-width="1.3"/>
<rect x="2111.25" y="270.0" width="6.3" height="23.0" fill="#00ff00"/>
<line x1="2124.4" y1="228.0" x2="2124.4" y2="276.0" stroke="#00ff00" stroke-width="1.3"/>
<rect x="2121.25" y="241.4" width="6.3" height="29.6" fill="#00ff00"/>
<line x1="2134.4" y1="200.0" x2="2134.4" y2="252.0" stroke="#00ff00" stroke-width="1.3"/>
<rect x="2131.25" y="225.0" width="6.3" height="18.6" fill="#00ff00"/>
<line x1="2144.4" y1="120.0" x2="2144.4" y2="228.2" stroke="#00ff00" stroke-width="1.3"/>
<rect x="2141.25" y="131.0" width="6.3" height="96.8" fill="#00ff00"/>
<line x1="2154.4" y1="110.0" x2="2154.4" y2="142.0" stroke="#00ff00" stroke-width="1.3"/>
<rect x="2151.25" y="130.0" width="6.3" height="1.8" fill="#00ff00"/>
<line x1="2164.4" y1="119.6" x2="2164.4" y2="150.2" stroke="#00ff00" stroke-width="1.3"/>
<rect x="2161.25" y="141.6" width="6.3" height="8.1" fill="#00ff00"/>
<line x1="2174.4" y1="140.0" x2="2174.4" y2="153.0" stroke="#ff0000" stroke-width="1.3"/>
<rect x="2171.25" y="141.6" width="6.3" height="6.4" fill="#ff0000"/>
<line x1="2184.4" y1="138.7" x2="2184.4" y2="174.5" stroke="#ff0000" stroke-width="1.3"/>
<rect x="2181.25" y="149.0" width="6.3" height="9.0" fill="#ff0000"/>
<line x1="2194.4" y1="155.4" x2="2194.4" y2="181.7" stroke="#ff0000" stroke-width="1.3"/>
<rect x="2191.25" y="158.0" width="6.3" height="7.7" fill="#ff0000"/>
<line x1="2204.4" y1="140.5" x2="2204.4" y2="167.0" stroke="#00ff00" stroke-width="1.3"/>
<rect x="2201.25" y="149.7" width="6.3" height="16.6" fill="#00ff00"/>
<line x1="2214.4" y1="49.6" x2="2214.4" y2="219.4" stroke="#ff0000" stroke-width="1.3"/>
<rect x="2211.25" y="150.0" width="6.3" height="64.6" fill="#ff0000"/>
<line x1="2224.4" y1="189.0" x2="2224.4" y2="217.2" stroke="#00ff00" stroke-width="1.3"/>
<rect x="2221.25" y="194.0" width="6.3" height="22.8" fill="#00ff00"/>
<line x1="2234.4" y1="186.0" x2="2234.4" y2="243.0" stroke="#ff0000" stroke-width="1.3"/>
<rect x="2231.25" y="194.0" width="6.3" height="48.0" fill="#ff0000"/>
<line x1="2244.4" y1="172.0" x2="2244.4" y2="265.0" stroke="#00ff00" stroke-width="1.3"/>
<rect x="2241.25" y="190.5" width="6.3" height="51.3" fill="#00ff00"/>
<line x1="2254.4" y1="163.5" x2="2254.4" y2="241.5" stroke="#ff0000" stroke-width="1.3"/>
<rect x="2251.25" y="190.5" width="6.3" height="50.5" fill="#ff0000"/>
<line x1="2264.4" y1="239.0" x2="2264.4" y2="309.0" stroke="#ff0000" stroke-width="1.3"/>
<rect x="2261.25" y="240.0" width="6.3" height="14.0" fill="#ff0000"/>
<line x1="2274.4" y1="242.5" x2="2274.4" y2="263.0" stroke="#ff0000" stroke-width="1.3"/>
<rect x="2271.25" y="253.4" width="6.3" height="8.6" fill="#ff0000"/>
<line x1="2284.4" y1="247.5" x2="2284.4" y2="273.0" stroke="#00ff00" stroke-width="1.3"/>
<rect x="2281.25" y="254.0" width="6.3" height="7.0" fill="#00ff00"/>
<line x1="2294.4" y1="245.0" x2="2294.4" y2="281.0" stroke="#ff0000" stroke-width="1.3"/>
<rect x="2291.25" y="254.0" width="6.3" height="20.0" fill="#ff0000"/>
</g>
<g clip-path="url(#ci)">
<rect x="2.55" y="1062.6" width="3.7" height="95.6" fill="#ff0000"/>
<rect x="12.55" y="1062.6" width="3.7" height="114.6" fill="#ff0000"/>
<rect x="22.55" y="1062.6" width="3.7" height="133.6" fill="#ff0000"/>
<rect x="32.55" y="1062.6" width="3.7" height="160.9" fill="#ff0000"/>
<rect x="42.55" y="1062.6" width="3.7" height="174.2" fill="#ff0000"/>
<rect x="52.55" y="1062.6" width="3.7" height="183.7" fill="#ff0000"/>
<rect x="62.55" y="1062.6" width="3.7" height="181.0" fill="#007a00"/>
<rect x="72.55" y="1062.6" width="3.7" height="181.0" fill="#ff0000"/>
<rect x="82.55" y="1062.6" width="3.7" height="178.0" fill="#007a00"/>
<rect x="92.55" y="1062.6" width="3.7" height="199.7" fill="#ff0000"/>
<rect x="102.55" y="1062.6" width="3.7" height="214.9" fill="#ff0000"/>
<rect x="112.55" y="1062.6" width="3.7" height="244.4" fill="#ff0000"/>
<rect x="122.55" y="1062.6" width="3.7" height="257.0" fill="#ff0000"/>
<rect x="132.55" y="1062.6" width="3.7" height="262.4" fill="#ff0000"/>
<rect x="142.55" y="1062.6" width="3.7" height="259.7" fill="#007a00"/>
<rect x="152.55" y="1062.6" width="3.7" height="260.8" fill="#ff0000"/>
<rect x="162.55" y="1062.6" width="3.7" height="262.4" fill="#ff0000"/>
<rect x="172.55" y="1062.6" width="3.7" height="260.8" fill="#007a00"/>
<rect x="182.55" y="1062.6" width="3.7" height="254.0" fill="#007a00"/>
<rect x="192.55" y="1062.6" width="3.7" height="248.3" fill="#007a00"/>
<rect x="202.55" y="1062.6" width="3.7" height="244.4" fill="#007a00"/>
<rect x="212.55" y="1062.6" width="3.7" height="195.9" fill="#007a00"/>
<rect x="222.55" y="1062.6" width="3.7" height="157.1" fill="#007a00"/>
<rect x="232.55" y="1062.6" width="3.7" height="107.0" fill="#007a00"/>
<rect x="242.55" y="1062.6" width="3.7" height="78.1" fill="#007a00"/>
<rect x="252.55" y="1062.6" width="3.7" height="50.8" fill="#007a00"/>
<rect x="262.55" y="1062.6" width="3.7" height="32.9" fill="#007a00"/>
<rect x="272.55" y="1062.6" width="3.7" height="13.6" fill="#007a00"/>
<rect x="282.55" y="1060.2" width="3.7" height="2.4" fill="#007a00"/>
<rect x="292.55" y="1048.8" width="3.7" height="13.8" fill="#007a00"/>
<rect x="302.55" y="1040.0" width="3.7" height="22.6" fill="#007a00"/>
<rect x="312.55" y="1037.4" width="3.7" height="25.2" fill="#007a00"/>
<rect x="322.55" y="1042.4" width="3.7" height="20.2" fill="#ff0000"/>
<rect x="332.55" y="1047.7" width="3.7" height="14.9" fill="#ff0000"/>
<rect x="342.55" y="1036.3" width="3.7" height="26.3" fill="#007a00"/>
<rect x="352.55" y="1029.8" width="3.7" height="32.8" fill="#007a00"/>
<rect x="362.55" y="1026.4" width="3.7" height="36.2" fill="#007a00"/>
<rect x="372.55" y="1021.5" width="3.7" height="41.1" fill="#007a00"/>
<rect x="382.55" y="1020.0" width="3.7" height="42.6" fill="#007a00"/>
<rect x="392.55" y="1005.0" width="3.7" height="57.6" fill="#007a00"/>
<rect x="402.55" y="990.0" width="3.7" height="72.6" fill="#007a00"/>
<rect x="412.55" y="972.9" width="3.7" height="89.7" fill="#007a00"/>
<rect x="422.55" y="960.3" width="3.7" height="102.3" fill="#007a00"/>
<rect x="432.55" y="947.0" width="3.7" height="115.6" fill="#007a00"/>
<rect x="442.55" y="933.7" width="3.7" height="128.9" fill="#007a00"/>
<rect x="452.55" y="934.9" width="3.7" height="127.7" fill="#ff0000"/>
<rect x="462.55" y="941.3" width="3.7" height="121.3" fill="#ff0000"/>
<rect x="472.55" y="938.7" width="3.7" height="123.9" fill="#007a00"/>
<rect x="482.55" y="936.8" width="3.7" height="125.8" fill="#007a00"/>
<rect x="492.55" y="939.8" width="3.7" height="122.8" fill="#ff0000"/>
<rect x="502.55" y="951.2" width="3.7" height="111.4" fill="#ff0000"/>
<rect x="512.55" y="958.8" width="3.7" height="103.8" fill="#ff0000"/>
<rect x="522.55" y="962.6" width="3.7" height="100.0" fill="#ff0000"/>
<rect x="532.55" y="971.0" width="3.7" height="91.6" fill="#ff0000"/>
<rect x="542.55" y="977.4" width="3.7" height="85.2" fill="#ff0000"/>
<rect x="552.55" y="974.8" width="3.7" height="87.8" fill="#007a00"/>
<rect x="562.55" y="978.6" width="3.7" height="84.0" fill="#ff0000"/>
<rect x="572.55" y="994.9" width="3.7" height="67.7" fill="#ff0000"/>
<rect x="582.55" y="1011.2" width="3.7" height="51.4" fill="#ff0000"/>
<rect x="592.55" y="1021.3" width="3.7" height="41.3" fill="#ff0000"/>
<rect x="602.55" y="1031.1" width="3.7" height="31.5" fill="#ff0000"/>
<rect x="612.55" y="1034.9" width="3.7" height="27.7" fill="#ff0000"/>
<rect x="622.55" y="1042.5" width="3.7" height="20.1" fill="#ff0000"/>
<rect x="632.55" y="1040.0" width="3.7" height="22.6" fill="#007a00"/>
<rect x="642.55" y="1026.0" width="3.7" height="36.6" fill="#007a00"/>
<rect x="652.55" y="1019.0" width="3.7" height="43.6" fill="#007a00"/>
<rect x="662.55" y="1011.4" width="3.7" height="51.2" fill="#007a00"/>
<rect x="672.55" y="1003.8" width="3.7" height="58.8" fill="#007a00"/>
<rect x="682.55" y="989.9" width="3.7" height="72.7" fill="#007a00"/>
<rect x="692.55" y="984.0" width="3.7" height="78.6" fill="#007a00"/>
<rect x="702.55" y="979.0" width="3.7" height="83.6" fill="#007a00"/>
<rect x="712.55" y="975.2" width="3.7" height="87.4" fill="#007a00"/>
<rect x="722.55" y="971.4" width="3.7" height="91.2" fill="#007a00"/>
<rect x="732.55" y="972.6" width="3.7" height="90.0" fill="#ff0000"/>
<rect x="742.55" y="986.0" width="3.7" height="76.6" fill="#ff0000"/>
<rect x="752.55" y="997.4" width="3.7" height="65.2" fill="#ff0000"/>
<rect x="762.55" y="1016.4" width="3.7" height="46.2" fill="#ff0000"/>
<rect x="772.55" y="1028.6" width="3.7" height="34.0" fill="#ff0000"/>
<rect x="782.55" y="1036.2" width="3.7" height="26.4" fill="#ff0000"/>
<rect x="792.55" y="1040.0" width="3.7" height="22.6" fill="#ff0000"/>
<rect x="802.55" y="1036.2" width="3.7" height="26.4" fill="#007a00"/>
<rect x="812.55" y="1031.1" width="3.7" height="31.5" fill="#007a00"/>
<rect x="822.55" y="1024.0" width="3.7" height="38.6" fill="#007a00"/>
<rect x="832.55" y="1019.0" width="3.7" height="43.6" fill="#007a00"/>
<rect x="842.55" y="1015.2" width="3.7" height="47.4" fill="#007a00"/>
<rect x="852.55" y="1011.4" width="3.7" height="51.2" fill="#007a00"/>
<rect x="862.55" y="1017.7" width="3.7" height="44.9" fill="#ff0000"/>
<rect x="872.55" y="1025.3" width="3.7" height="37.3" fill="#ff0000"/>
<rect x="882.55" y="1034.9" width="3.7" height="27.7" fill="#ff0000"/>
<rect x="892.55" y="1043.8" width="3.7" height="18.8" fill="#ff0000"/>
<rect x="902.55" y="1051.4" width="3.7" height="11.2" fill="#ff0000"/>
<rect x="912.55" y="1056.2" width="3.7" height="6.4" fill="#ff0000"/>
<rect x="922.55" y="1056.2" width="3.7" height="6.4" fill="#007a00"/>
<rect x="932.55" y="1056.2" width="3.7" height="6.4" fill="#007a00"/>
<rect x="942.55" y="1062.0" width="3.7" height="0.6" fill="#ff0000"/>
<rect x="952.55" y="1062.6" width="3.7" height="8.2" fill="#ff0000"/>
<rect x="962.55" y="1062.6" width="3.7" height="15.8" fill="#ff0000"/>
<rect x="972.55" y="1062.6" width="3.7" height="22.9" fill="#ff0000"/>
<rect x="982.55" y="1062.6" width="3.7" height="28.0" fill="#ff0000"/>
<rect x="992.55" y="1062.6" width="3.7" height="21.7" fill="#007a00"/>
<rect x="1002.55" y="1062.6" width="3.7" height="19.1" fill="#007a00"/>
<rect x="1012.55" y="1062.6" width="3.7" height="19.1" fill="#ff0000"/>
<rect x="1022.55" y="1062.6" width="3.7" height="21.7" fill="#ff0000"/>
<rect x="1032.55" y="1062.6" width="3.7" height="22.9" fill="#ff0000"/>
<rect x="1042.55" y="1062.6" width="3.7" height="20.9" fill="#007a00"/>
<rect x="1052.55" y="1062.6" width="3.7" height="20.9" fill="#ff0000"/>
<rect x="1062.55" y="1062.6" width="3.7" height="33.0" fill="#ff0000"/>
<rect x="1072.55" y="1062.6" width="3.7" height="43.2" fill="#ff0000"/>
<rect x="1082.55" y="1062.6" width="3.7" height="48.0" fill="#ff0000"/>
<rect x="1092.55" y="1062.6" width="3.7" height="60.6" fill="#ff0000"/>
<rect x="1102.55" y="1062.6" width="3.7" height="65.7" fill="#ff0000"/>
<rect x="1112.55" y="1062.6" width="3.7" height="65.7" fill="#007a00"/>
<rect x="1122.55" y="1062.6" width="3.7" height="29.2" fill="#007a00"/>
<rect x="1142.55" y="1047.6" width="3.7" height="15.0" fill="#007a00"/>
<rect x="1152.55" y="1034.1" width="3.7" height="28.5" fill="#007a00"/>
<rect x="1162.55" y="1024.0" width="3.7" height="38.6" fill="#007a00"/>
<rect x="1172.55" y="1017.7" width="3.7" height="44.9" fill="#007a00"/>
<rect x="1182.55" y="1027.8" width="3.7" height="34.8" fill="#ff0000"/>
<rect x="1192.55" y="1046.3" width="3.7" height="16.3" fill="#ff0000"/>
<rect x="1202.55" y="1052.6" width="3.7" height="10.0" fill="#ff0000"/>
<rect x="1222.55" y="1062.6" width="3.7" height="12.0" fill="#ff0000"/>
<rect x="1232.55" y="1062.6" width="3.7" height="13.3" fill="#ff0000"/>
<rect x="1242.55" y="1062.6" width="3.7" height="13.3" fill="#007a00"/>
<rect x="1252.55" y="1062.6" width="3.7" height="14.6" fill="#ff0000"/>
<rect x="1262.55" y="1062.6" width="3.7" height="17.1" fill="#ff0000"/>
<rect x="1272.55" y="1062.6" width="3.7" height="26.0" fill="#ff0000"/>
<rect x="1282.55" y="1062.6" width="3.7" height="40.6" fill="#ff0000"/>
<rect x="1292.55" y="1062.6" width="3.7" height="53.3" fill="#ff0000"/>
<rect x="1302.55" y="1062.6" width="3.7" height="44.4" fill="#007a00"/>
<rect x="1312.55" y="1062.6" width="3.7" height="38.6" fill="#007a00"/>
<rect x="1322.55" y="1062.6" width="3.7" height="30.3" fill="#007a00"/>
<rect x="1332.55" y="1062.6" width="3.7" height="26.0" fill="#007a00"/>
<rect x="1342.55" y="1062.6" width="3.7" height="22.2" fill="#007a00"/>
<rect x="1352.55" y="1062.6" width="3.7" height="9.5" fill="#007a00"/>
<rect x="1362.55" y="1055.1" width="3.7" height="7.5" fill="#007a00"/>
<rect x="1372.55" y="1045.0" width="3.7" height="17.6" fill="#007a00"/>
<rect x="1382.55" y="1038.7" width="3.7" height="23.9" fill="#007a00"/>
<rect x="1392.55" y="1038.7" width="3.7" height="23.9" fill="#007a00"/>
<rect x="1402.55" y="1034.9" width="3.7" height="27.7" fill="#007a00"/>
<rect x="1412.55" y="1037.4" width="3.7" height="25.2" fill="#ff0000"/>
<rect x="1422.55" y="1026.0" width="3.7" height="36.6" fill="#007a00"/>
<rect x="1432.55" y="1022.2" width="3.7" height="40.4" fill="#007a00"/>
<rect x="1442.55" y="1016.4" width="3.7" height="46.2" fill="#007a00"/>
<rect x="1452.55" y="1008.8" width="3.7" height="53.8" fill="#007a00"/>
<rect x="1462.55" y="996.2" width="3.7" height="66.4" fill="#007a00"/>
<rect x="1472.55" y="994.9" width="3.7" height="67.7" fill="#007a00"/>
<rect x="1482.55" y="994.9" width="3.7" height="67.7" fill="#ff0000"/>
<rect x="1492.55" y="993.6" width="3.7" height="69.0" fill="#007a00"/>
<rect x="1502.55" y="996.2" width="3.7" height="66.4" fill="#ff0000"/>
<rect x="1512.55" y="1003.0" width="3.7" height="59.6" fill="#ff0000"/>
<rect x="1522.55" y="1022.2" width="3.7" height="40.4" fill="#ff0000"/>
<rect x="1532.55" y="1048.8" width="3.7" height="13.8" fill="#ff0000"/>
<rect x="1542.55" y="1060.0" width="3.7" height="2.6" fill="#ff0000"/>
<rect x="1552.55" y="1062.6" width="3.7" height="8.2" fill="#ff0000"/>
<rect x="1562.55" y="1062.6" width="3.7" height="18.4" fill="#ff0000"/>
<rect x="1572.55" y="1062.6" width="3.7" height="26.0" fill="#ff0000"/>
<rect x="1582.55" y="1062.6" width="3.7" height="24.7" fill="#007a00"/>
<rect x="1592.55" y="1062.6" width="3.7" height="26.0" fill="#ff0000"/>
<rect x="1602.55" y="1062.6" width="3.7" height="18.4" fill="#007a00"/>
<rect x="1612.55" y="1062.6" width="3.7" height="15.8" fill="#007a00"/>
<rect x="1622.55" y="1062.6" width="3.7" height="15.8" fill="#007a00"/>
<rect x="1632.55" y="1062.6" width="3.7" height="17.1" fill="#ff0000"/>
<rect x="1642.55" y="1062.6" width="3.7" height="15.8" fill="#007a00"/>
<rect x="1652.55" y="1062.6" width="3.7" height="19.1" fill="#ff0000"/>
<rect x="1662.55" y="1062.6" width="3.7" height="22.2" fill="#ff0000"/>
<rect x="1672.55" y="1062.6" width="3.7" height="20.9" fill="#007a00"/>
<rect x="1682.55" y="1062.6" width="3.7" height="17.6" fill="#007a00"/>
<rect x="1692.55" y="1062.6" width="3.7" height="12.0" fill="#007a00"/>
<rect x="1702.55" y="1062.6" width="3.7" height="3.9" fill="#007a00"/>
<rect x="1712.55" y="1041.2" width="3.7" height="21.4" fill="#007a00"/>
<rect x="1722.55" y="1022.2" width="3.7" height="40.4" fill="#007a00"/>
<rect x="1732.55" y="1012.6" width="3.7" height="50.0" fill="#007a00"/>
<rect x="1742.55" y="1008.8" width="3.7" height="53.8" fill="#007a00"/>
<rect x="1752.55" y="1006.3" width="3.7" height="56.3" fill="#007a00"/>
<rect x="1762.55" y="998.7" width="3.7" height="63.9" fill="#007a00"/>
<rect x="1772.55" y="992.4" width="3.7" height="70.2" fill="#007a00"/>
<rect x="1782.55" y="986.0" width="3.7" height="76.6" fill="#007a00"/>
<rect x="1792.55" y="975.9" width="3.7" height="86.7" fill="#007a00"/>
<rect x="1802.55" y="966.3" width="3.7" height="96.3" fill="#007a00"/>
<rect x="1812.55" y="960.0" width="3.7" height="102.6" fill="#007a00"/>
<rect x="1822.55" y="958.7" width="3.7" height="103.9" fill="#007a00"/>
<rect x="1832.55" y="967.6" width="3.7" height="95.0" fill="#ff0000"/>
<rect x="1842.55" y="980.2" width="3.7" height="82.4" fill="#ff0000"/>
<rect x="1852.55" y="993.6" width="3.7" height="69.0" fill="#ff0000"/>
<rect x="1862.55" y="1010.1" width="3.7" height="52.5" fill="#ff0000"/>
<rect x="1872.55" y="1017.7" width="3.7" height="44.9" fill="#ff0000"/>
<rect x="1882.55" y="1029.1" width="3.7" height="33.5" fill="#ff0000"/>
<rect x="1892.55" y="1037.4" width="3.7" height="25.2" fill="#ff0000"/>
<rect x="1902.55" y="1042.5" width="3.7" height="20.1" fill="#ff0000"/>
<rect x="1912.55" y="1050.1" width="3.7" height="12.5" fill="#ff0000"/>
<rect x="1922.55" y="1057.4" width="3.7" height="5.2" fill="#ff0000"/>
<rect x="1932.55" y="1061.5" width="3.7" height="1.1" fill="#ff0000"/>
<rect x="1942.55" y="1062.6" width="3.7" height="4.4" fill="#ff0000"/>
<rect x="1952.55" y="1062.0" width="3.7" height="0.6" fill="#007a00"/>
<rect x="1962.55" y="1053.9" width="3.7" height="8.7" fill="#007a00"/>
<rect x="1972.55" y="1046.3" width="3.7" height="16.3" fill="#007a00"/>
<rect x="1982.55" y="1041.2" width="3.7" height="21.4" fill="#007a00"/>
<rect x="1992.55" y="1041.2" width="3.7" height="21.4" fill="#007a00"/>
<rect x="2002.55" y="1043.8" width="3.7" height="18.8" fill="#ff0000"/>
<rect x="2012.55" y="1046.3" width="3.7" height="16.3" fill="#ff0000"/>
<rect x="2022.55" y="1045.0" width="3.7" height="17.6" fill="#007a00"/>
<rect x="2032.55" y="1042.5" width="3.7" height="20.1" fill="#007a00"/>
<rect x="2042.55" y="1042.5" width="3.7" height="20.1" fill="#007a00"/>
<rect x="2052.55" y="1040.0" width="3.7" height="22.6" fill="#007a00"/>
<rect x="2062.55" y="1037.4" width="3.7" height="25.2" fill="#007a00"/>
<rect x="2072.55" y="1024.8" width="3.7" height="37.8" fill="#007a00"/>
<rect x="2082.55" y="1020.2" width="3.7" height="42.4" fill="#007a00"/>
<rect x="2092.55" y="1016.4" width="3.7" height="46.2" fill="#007a00"/>
<rect x="2102.55" y="1012.6" width="3.7" height="50.0" fill="#007a00"/>
<rect x="2112.55" y="1006.3" width="3.7" height="56.3" fill="#007a00"/>
<rect x="2122.55" y="994.9" width="3.7" height="67.7" fill="#007a00"/>
<rect x="2132.55" y="985.3" width="3.7" height="77.3" fill="#007a00"/>
<rect x="2142.55" y="960.0" width="3.7" height="102.6" fill="#007a00"/>
<rect x="2152.55" y="940.0" width="3.7" height="122.6" fill="#007a00"/>
<rect x="2162.55" y="928.6" width="3.7" height="134.0" fill="#007a00"/>
<rect x="2172.55" y="922.3" width="3.7" height="140.3" fill="#007a00"/>
<rect x="2182.55" y="921.0" width="3.7" height="141.6" fill="#007a00"/>
<rect x="2192.55" y="922.3" width="3.7" height="140.3" fill="#ff0000"/>
<rect x="2202.55" y="922.3" width="3.7" height="140.3" fill="#ff0000"/>
<rect x="2212.55" y="938.0" width="3.7" height="124.6" fill="#ff0000"/>
<rect x="2222.55" y="946.3" width="3.7" height="116.3" fill="#ff0000"/>
<rect x="2232.55" y="963.8" width="3.7" height="98.8" fill="#ff0000"/>
<rect x="2242.55" y="968.8" width="3.7" height="93.8" fill="#ff0000"/>
<rect x="2252.55" y="982.8" width="3.7" height="79.8" fill="#ff0000"/>
<rect x="2262.55" y="997.4" width="3.7" height="65.2" fill="#ff0000"/>
<rect x="2272.55" y="1012.6" width="3.7" height="50.0" fill="#ff0000"/>
<rect x="2282.55" y="1022.2" width="3.7" height="40.4" fill="#ff0000"/>
<rect x="2292.55" y="1034.9" width="3.7" height="27.7" fill="#ff0000"/>
<line x1="4" y1="1064.2" x2="2910" y2="1064.2" stroke="#ff0000" stroke-width="1.3" stroke-dasharray="3.75 3.75"/>
<polyline points="3.8,1056.4 15.2,1084.9 30.4,1115.3 45.6,1147.6 60.8,1181.8 76.0,1206.4 95.0,1231.1 113.9,1253.9 132.9,1271.0 151.9,1286.2 167.1,1301.4 182.3,1314.7 193.7,1318.5 203.2,1318.9 212.7,1312.8 224.1,1299.5 235.5,1278.6 246.9,1255.8 258.3,1227.3 269.7,1195.0 281.0,1162.8 292.4,1130.5 303.8,1105.8 315.2,1084.9 326.6,1071.6 338.0,1060.2 353.2,1048.0 364.6,1041.2 376.0,1036.7 387.4,1033.6 402.6,1026.0 417.8,1012.7 433.0,997.5 448.2,982.4 463.4,969.1 478.5,955.8 490.0,947.4 501.3,943.6 516.5,942.9 531.7,946.3 546.9,952.0 565.9,960.3 581.1,971.0 590.0,981.0 600.1,988.6 610.2,997.4 620.4,1006.3 633.0,1015.2 645.7,1021.5 655.8,1025.3 665.9,1026.5 676.0,1025.3 686.2,1021.5 698.8,1013.9 711.5,1003.8 724.1,993.6 734.3,988.6 744.4,985.3 754.5,984.0 764.6,985.3 774.8,990.4 787.4,998.7 800.0,1006.3 812.7,1015.2 825.4,1021.5 835.5,1026.0 845.6,1027.8 855.7,1026.5 868.4,1024.0 893.7,1024.0 906.4,1026.5 919.0,1031.6 931.7,1037.9 944.3,1044.3 957.0,1051.4 969.6,1059.5 982.3,1065.8 995.0,1071.6 1007.6,1074.6 1020.3,1078.4 1032.9,1081.7 1045.6,1084.0 1058.2,1084.0 1070.9,1086.8 1083.5,1089.8 1096.2,1096.2 1106.3,1101.2 1115.2,1105.5 1124.0,1105.8 1134.2,1103.7 1144.3,1099.2 1153.1,1093.6 1164.5,1081.7 1174.7,1072.1 1184.8,1062.0 1197.6,1051.9 1205.2,1045.5 1215.3,1041.7 1225.4,1043.0 1235.6,1046.3 1248.2,1053.1 1260.9,1060.7 1273.5,1069.6 1286.2,1078.4 1298.8,1086.0 1311.5,1091.1 1324.1,1093.6 1336.8,1095.4 1346.9,1095.6 1357.0,1093.6 1367.2,1089.3 1379.8,1081.0 1392.5,1070.8 1405.1,1062.0 1417.8,1053.1 1430.4,1044.3 1443.1,1035.9 1455.8,1029.1 1468.4,1021.5 1481.1,1016.4 1493.7,1010.1 1503.8,1005.0 1514.0,1003.0 1524.1,1003.0 1534.2,1006.3 1544.3,1012.6 1557.0,1024.0 1569.6,1036.2 1582.3,1048.1 1595.0,1060.7 1607.6,1070.8 1620.3,1077.9 1632.9,1080.5 1645.6,1081.7 1663.3,1081.7 1683.5,1080.5 1701.3,1078.4 1713.9,1074.6 1724.0,1068.3 1734.2,1060.7 1746.8,1049.3 1759.5,1036.7 1772.1,1025.3 1784.8,1013.9 1800.1,1000.0 1810.2,992.4 1820.4,986.0 1830.5,980.2 1840.6,977.2 1850.7,976.4 1860.9,977.2 1871.0,980.2 1881.1,985.3 1891.2,992.4 1901.4,1000.7 1911.5,1011.4 1921.6,1021.5 1931.7,1031.6 1941.9,1039.7 1952.0,1046.3 1962.1,1050.6 1972.2,1052.6 1982.4,1053.9 1992.5,1054.4 2005.1,1053.1 2017.8,1051.4 2030.4,1047.6 2043.1,1045.0 2055.8,1043.5 2068.4,1042.5 2081.1,1038.7 2093.7,1035.4 2106.4,1030.3 2119.0,1024.0 2131.7,1017.2 2144.3,1006.3 2154.5,995.7 2164.6,984.8 2174.7,973.4 2184.8,963.3 2195.0,953.2 2205.1,944.3 2215.2,937.5 2225.3,933.7 2232.9,933.4 2243.0,936.2 2253.2,941.3 2263.3,949.4 2273.4,959.5 2283.5,970.9 2293.7,983.5 2303.3,996.9" fill="none" stroke="#2222ff" stroke-width="1.3" stroke-linejoin="round"/>
</g>
<g stroke="#0000ff" stroke-width="1.3" fill="none">
<line x1="1284.5" y1="46" x2="1284.5" y2="896"/>
<line x1="2874.3" y1="49" x2="2874.3" y2="896"/>
<line x1="214" y1="875.5" x2="1154" y2="127.5"/>
<line x1="234.5" y1="681.8" x2="1134.4" y2="324.3"/>
<line x1="1294" y1="589" x2="2078" y2="229"/>
<polyline points="1474,333 1584,535 1824,264.6" stroke-width="1.05"/>
<polyline points="1954.5,456.8 2188,435"/>
</g>
<g stroke="#0000ff" stroke-width="1.3" fill="none" stroke-dasharray="3.75 3.75">
<line x1="3.7" y1="549.8" x2="1110" y2="895"/>
<line x1="189" y1="445.6" x2="2148" y2="50.6"/>
<line x1="1288" y1="366.2" x2="2246" y2="183.5"/>
<line x1="1294" y1="588.5" x2="2534" y2="358.7"/>
<line x1="2214.7" y1="46" x2="2214.7" y2="824"/>
<polyline points="2085,275 2143,291 2085,310"/>
<line x1="2214.8" y1="46" x2="2254.6" y2="158.3"/>
<line x1="2214.8" y1="46" x2="2325" y2="234.8"/>
<line x1="2254.6" y1="158.3" x2="2275" y2="233.8"/>
<line x1="2254.6" y1="158.3" x2="2264.7" y2="311.6"/>
<line x1="2264.7" y1="311.6" x2="2325" y2="234.8"/>
<line x1="2275" y1="233.8" x2="2334" y2="421"/>
<line x1="2325" y1="234.8" x2="2334" y2="421"/>
<line x1="2334" y1="421" x2="2404.7" y2="234.7"/>
<line x1="2404.7" y1="234.7" x2="2484.6" y2="631"/>
<line x1="2325" y1="234.8" x2="2674.5" y2="821.5"/>
<line x1="2484.6" y1="631" x2="2564.3" y2="428.2"/>
<line x1="2564.3" y1="428.2" x2="2674.5" y2="821.5"/>
<line x1="2674.5" y1="821.5" x2="2834.8" y2="432.2"/>
</g>
<g stroke="#0000ff" stroke-width="1.5" fill="#fff">
<rect x="211" y="872.5" width="6" height="6"/>
<rect x="681" y="499.4" width="6" height="6"/>
<rect x="1151.5" y="123.8" width="6" height="6"/>
<rect x="231.5" y="678.8" width="6" height="6"/>
<rect x="1131.4" y="321.3" width="6" height="6"/>
<rect x="1281.5" y="588.9" width="6" height="6"/>
<rect x="1281.5" y="43.9" width="6" height="6"/>
</g>
<g stroke="#0000ff" stroke-width="1.1" fill="none" stroke-dasharray="2.5 2">
<rect x="2211.8" y="43" width="6" height="6"/>
<rect x="2251.6" y="155.3" width="6" height="6"/>
<rect x="2272" y="230.8" width="6" height="6"/>
<rect x="2261.7" y="308.6" width="6" height="6"/>
<rect x="2291.4" y="270.7" width="6" height="6"/>
<rect x="2322" y="231.8" width="6" height="6"/>
<rect x="2326.7" y="326.4" width="6" height="6"/>
<rect x="2331" y="418" width="6" height="6"/>
<rect x="2367" y="325.3" width="6" height="6"/>
<rect x="2401.7" y="231.7" width="6" height="6"/>
<rect x="2441" y="430.6" width="6" height="6"/>
<rect x="2481.6" y="628" width="6" height="6"/>
<rect x="2521.2" y="526.3" width="6" height="6"/>
<rect x="2561.3" y="425.2" width="6" height="6"/>
<rect x="2617" y="626.8" width="6" height="6"/>
<rect x="2671.5" y="818.5" width="6" height="6"/>
<rect x="2751.4" y="624" width="6" height="6"/>
<rect x="2831.8" y="429.2" width="6" height="6"/>
<rect x="2211.7" y="821" width="6" height="6"/>
</g>
<rect x="1007.1999999999999" y="108.3" width="124.60000000000001" height="39.1" fill="none" stroke="#0000ff" stroke-width="1.6"/>
<text x="1010.1999999999999" y="140.79999999999998" font-family="Liberation Sans, sans-serif" font-size="34.8" fill="#0000ff" textLength="119.5" lengthAdjust="spacingAndGlyphs">1.18668</text>
<line x1="1132.6" y1="127.9" x2="1144.6" y2="127.9" stroke="#0000ff" stroke-width="1.4"/>
<rect x="2067.2000000000003" y="29.8" width="124.60000000000001" height="38.8" fill="none" stroke="#0000ff" stroke-width="1.6"/>
<text x="2070.2000000000003" y="62.00000000000001" font-family="Liberation Sans, sans-serif" font-size="34.8" fill="#0000ff" textLength="119.5" lengthAdjust="spacingAndGlyphs">1.19164</text>
<line x1="2192.6" y1="49.2" x2="2204.6" y2="49.2" stroke="#0000ff" stroke-width="1.4"/>
<rect x="2077.1000000000004" y="213.70000000000002" width="124.4" height="38.9" fill="none" stroke="#0000ff" stroke-width="1.6"/>
<text x="2080.1000000000004" y="246.0" font-family="Liberation Sans, sans-serif" font-size="34.8" fill="#0000ff" textLength="119.5" lengthAdjust="spacingAndGlyphs">1.18000</text>
<line x1="2202.3" y1="232.6" x2="2214" y2="232.6" stroke="#0000ff" stroke-width="1.4"/>
<rect x="1147.2" y="563.8" width="124.4" height="38.9" fill="none" stroke="#0000ff" stroke-width="1.6"/>
<text x="1150.2" y="596.1" font-family="Liberation Sans, sans-serif" font-size="34.8" fill="#0000ff" textLength="119.5" lengthAdjust="spacingAndGlyphs">1.15771</text>
<line x1="1272.4" y1="582.5" x2="1284" y2="582.5" stroke="#0000ff" stroke-width="1.4"/>
<rect x="2187.5" y="401.3" width="123.60000000000001" height="38.699999999999996" fill="none" stroke="#0000ff" stroke-width="1.6"/>
<text x="2190.5" y="433.40000000000003" font-family="Liberation Sans, sans-serif" font-size="34.8" fill="#0000ff" textLength="119.5" lengthAdjust="spacingAndGlyphs">1.16808</text>
<line x1="2311.8999999999996" y1="421" x2="2334" y2="421" stroke="#0000ff" stroke-width="1.4"/>
<circle cx="2204" cy="232.6" r="2.6" fill="#fff" stroke="#0000ff" stroke-width="1.1"/>
<path d="M2304,270 V276 M2301.5,274 L2304,276.5 L2306.5,274 M2301,277 H2307" stroke="#000" stroke-width="1.1" fill="none"/>
<path fill="rgba(0,52,128,0.1725)" d="M958.7,150.8 H1831 A200,200 0 0 1 2031,350.8 V594.7 A200,200 0 0 1 1831,794.7 H1388 V580.2 H1816.5 V366.4 H1173.4 V1222.6 H958.7 Z M1387.5,1008.4 H1812 Q1816,1008.4 1818,1012 L1923,1222.6 H1387.5 Z"/>
<g font-family="Liberation Sans, sans-serif" font-size="15.8" fill="#000">
<line x1="2910" y1="15.7" x2="2915" y2="15.7" stroke="#000" stroke-width="1.3"/>
<text x="2919" y="21.3">1.19380</text>
<line x1="2910" y1="77.0" x2="2915" y2="77.0" stroke="#000" stroke-width="1.3"/>
<text x="2919" y="82.6">1.18990</text>
<line x1="2910" y1="138.2" x2="2915" y2="138.2" stroke="#000" stroke-width="1.3"/>
<text x="2919" y="143.8">1.18600</text>
<line x1="2910" y1="199.5" x2="2915" y2="199.5" stroke="#000" stroke-width="1.3"/>
<text x="2919" y="205.1">1.18210</text>
<line x1="2910" y1="260.8" x2="2915" y2="260.8" stroke="#000" stroke-width="1.3"/>
<text x="2919" y="266.4">1.17820</text>
<line x1="2910" y1="322.0" x2="2915" y2="322.0" stroke="#000" stroke-width="1.3"/>
<text x="2919" y="327.6">1.17435</text>
<line x1="2910" y1="383.3" x2="2915" y2="383.3" stroke="#000" stroke-width="1.3"/>
<text x="2919" y="388.9">1.17045</text>
<line x1="2910" y1="444.6" x2="2915" y2="444.6" stroke="#000" stroke-width="1.3"/>
<text x="2919" y="450.2">1.16655</text>
<line x1="2910" y1="505.8" x2="2915" y2="505.8" stroke="#000" stroke-width="1.3"/>
<text x="2919" y="511.4">1.16265</text>
<line x1="2910" y1="567.1" x2="2915" y2="567.1" stroke="#000" stroke-width="1.3"/>
<text x="2919" y="572.7">1.15875</text>
<line x1="2910" y1="628.4" x2="2915" y2="628.4" stroke="#000" stroke-width="1.3"/>
<text x="2919" y="634.0">1.15485</text>
<line x1="2910" y1="689.6" x2="2915" y2="689.6" stroke="#000" stroke-width="1.3"/>
<text x="2919" y="695.2">1.15095</text>
<line x1="2910" y1="750.9" x2="2915" y2="750.9" stroke="#000" stroke-width="1.3"/>
<text x="2919" y="756.5">1.14705</text>
<line x1="2910" y1="812.1" x2="2915" y2="812.1" stroke="#000" stroke-width="1.3"/>
<text x="2919" y="817.7">1.14315</text>
<line x1="2910" y1="873.4" x2="2915" y2="873.4" stroke="#000" stroke-width="1.3"/>
<text x="2919" y="879.0">1.13925</text>
<text x="2915.5" y="916.8">0.0041284</text>
<text x="2915" y="1341.5">-0.0072135</text>
<rect x="2912" y="41.2" width="70.8" height="17.6" fill="#ff0000"/>
<text x="2919" y="55.2" fill="#fff">1.19169</text>
<rect x="2912" y="227.0" width="70.8" height="17.6" fill="#ff0000"/>
<text x="2919" y="241.0" fill="#fff">1.17986</text>
<rect x="2912" y="424.8" width="70.8" height="17.6" fill="#ff0000"/>
<text x="2919" y="438.8" fill="#fff">1.16729</text>
<rect x="2912" y="816.1" width="70.8" height="17.6" fill="#ff0000"/>
<text x="2919" y="830.1" fill="#fff">1.14240</text>
<rect x="2912" y="266.0" width="70.8" height="17.6" fill="#000"/>
<text x="2919" y="280.0" fill="#fff">1.17733</text>
<rect x="2912" y="1055.8" width="78" height="17.6" fill="#ff0000"/>
<text x="2919" y="1070.2" fill="#fff">-0.000026</text>
</g>
<g font-family="Liberation Sans, sans-serif" font-size="15.8" fill="#000">
<line x1="4.3" y1="1345" x2="4.3" y2="1350.5" stroke="#000" stroke-width="1.3"/>
<text x="2.5" y="1365">29 Jul 2025</text>
<line x1="124.3" y1="1345" x2="124.3" y2="1350.5" stroke="#000" stroke-width="1.3"/>
<text x="122.5" y="1365">31 Jul 00:00</text>
<line x1="244.3" y1="1345" x2="244.3" y2="1350.5" stroke="#000" stroke-width="1.3"/>
<text x="242.5" y="1365">4 Aug 00:00</text>
<line x1="364.3" y1="1345" x2="364.3" y2="1350.5" stroke="#000" stroke-width="1.3"/>
<text x="362.5" y="1365">6 Aug 00:00</text>
<line x1="484.3" y1="1345" x2="484.3" y2="1350.5" stroke="#000" stroke-width="1.3"/>
<text x="482.5" y="1365">8 Aug 00:00</text>
<line x1="604.3" y1="1345" x2="604.3" y2="1350.5" stroke="#000" stroke-width="1.3"/>
<text x="602.5" y="1365">12 Aug 00:00</text>
<line x1="724.3" y1="1345" x2="724.3" y2="1350.5" stroke="#000" stroke-width="1.3"/>
<text x="722.5" y="1365">14 Aug 00:00</text>
<line x1="844.3" y1="1345" x2="844.3" y2="1350.5" stroke="#000" stroke-width="1.3"/>
<text x="842.5" y="1365">18 Aug 00:00</text>
<line x1="964.3" y1="1345" x2="964.3" y2="1350.5" stroke="#000" stroke-width="1.3"/>
<text x="962.5" y="1365">20 Aug 00:00</text>
<line x1="1084.3" y1="1345" x2="1084.3" y2="1350.5" stroke="#000" stroke-width="1.3"/>
<text x="1082.5" y="1365">22 Aug 00:00</text>
<line x1="1204.3" y1="1345" x2="1204.3" y2="1350.5" stroke="#000" stroke-width="1.3"/>
<text x="1202.5" y="1365">26 Aug 00:00</text>
<line x1="1324.3" y1="1345" x2="1324.3" y2="1350.5" stroke="#000" stroke-width="1.3"/>
<text x="1322.5" y="1365">28 Aug 00:00</text>
<line x1="1444.3" y1="1345" x2="1444.3" y2="1350.5" stroke="#000" stroke-width="1.3"/>
<text x="1442.5" y="1365">1 Sep 00:00</text>
<line x1="1564.3" y1="1345" x2="1564.3" y2="1350.5" stroke="#000" stroke-width="1.3"/>
<text x="1562.5" y="1365">3 Sep 00:00</text>
<line x1="1684.3" y1="1345" x2="1684.3" y2="1350.5" stroke="#000" stroke-width="1.3"/>
<text x="1682.5" y="1365">5 Sep 00:00</text>
<line x1="1804.3" y1="1345" x2="1804.3" y2="1350.5" stroke="#000" stroke-width="1.3"/>
<text x="1802.5" y="1365">9 Sep 00:00</text>
<line x1="1924.3" y1="1345" x2="1924.3" y2="1350.5" stroke="#000" stroke-width="1.3"/>
<text x="1922.5" y="1365">11 Sep 00:00</text>
<line x1="2044.3" y1="1345" x2="2044.3" y2="1350.5" stroke="#000" stroke-width="1.3"/>
<text x="2042.5" y="1365">15 Sep 00:00</text>
<line x1="2164.3" y1="1345" x2="2164.3" y2="1350.5" stroke="#000" stroke-width="1.3"/>
<text x="2233.6" y="1365">:00</text>
<line x1="2284.3" y1="1345" x2="2284.3" y2="1350.5" stroke="#000" stroke-width="1.3"/>
<text x="2282.5" y="1365">19 Sep 00:00</text>
<rect x="2095" y="1350.2" width="137.4" height="19.8" fill="#ff0000"/>
<text x="2101.5" y="1365" fill="#fff">2025.09.17 00:00</text>
</g>
<path d="M7.2,12.6 H18.9 L13,18.8 Z" fill="#000"/>
<text x="26.3" y="21.2" font-family="Liberation Sans, sans-serif" font-size="15.3" fill="#000" textLength="79.5" lengthAdjust="spacingAndGlyphs">EURUSD,H4</text>
<text x="9" y="918.6" font-family="Liberation Sans, sans-serif" font-size="15.3" fill="#000" lengthAdjust="spacingAndGlyphs" textLength="146.5">MACD_color(12,26,9)</text>
<text x="161.9" y="918.6" font-family="Liberation Sans, sans-serif" font-size="15.3" fill="#000" lengthAdjust="spacingAndGlyphs" textLength="83.8">0.00000000</text>
<text x="250.1" y="918.6" font-family="Liberation Sans, sans-serif" font-size="15.3" fill="#000" lengthAdjust="spacingAndGlyphs" textLength="83.8">0.00000000</text>
<text x="338.6" y="918.6" font-family="Liberation Sans, sans-serif" font-size="15.3" fill="#000" lengthAdjust="spacingAndGlyphs" textLength="83.8">0.00166572</text>
</svg>
</body></html>
